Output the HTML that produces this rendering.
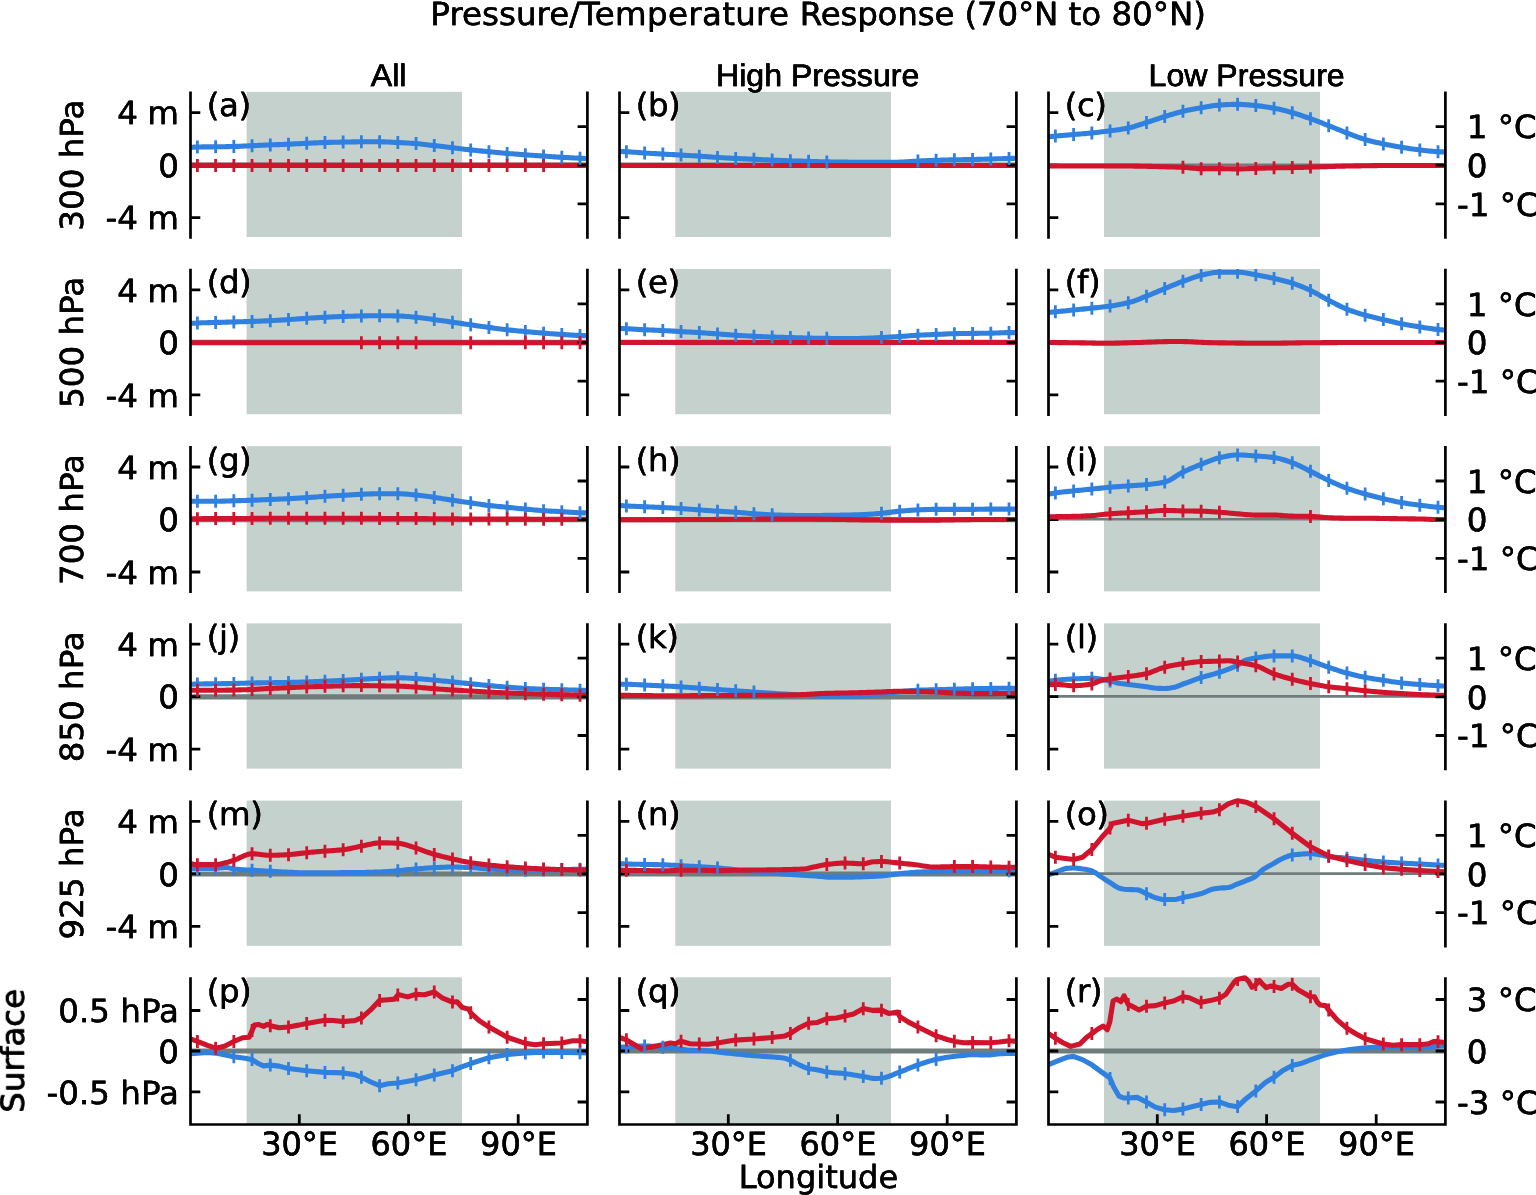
<!DOCTYPE html>
<html lang="en">
<head>
<meta charset="utf-8">
<title>Pressure/Temperature Response (70°N to 80°N)</title>
<style>
html,body{margin:0;padding:0;background:#fff;}
body{width:1536px;height:1195px;overflow:hidden;}
svg{display:block;}
text{fill:#000;stroke:#000;stroke-width:0.3px;text-rendering:geometricPrecision;}
.dv{font-family:"DejaVu Sans","Liberation Sans",sans-serif;font-size:32.5px;}
.pl{letter-spacing:-0.45px;}
.lb{font-family:"Liberation Sans","DejaVu Sans",sans-serif;font-size:32.1px;stroke-width:0.45px;}
</style>
</head>
<body>
<svg width="1536" height="1195" viewBox="0 0 1536 1195">
<rect width="1536" height="1195" fill="#fff"/>
<defs>
<filter id="vb" filterUnits="userSpaceOnUse" x="0" y="0" width="1536" height="1195" color-interpolation-filters="sRGB"><feOffset dy="-0.4" result="a"/><feOffset in="SourceGraphic" dy="0.4" result="b"/><feMerge><feMergeNode in="a"/><feMergeNode in="b"/></feMerge></filter>
<filter id="hb" filterUnits="userSpaceOnUse" x="0" y="0" width="1536" height="1195" color-interpolation-filters="sRGB"><feOffset dx="-0.4" result="a"/><feOffset in="SourceGraphic" dx="0.4" result="b"/><feMerge><feMergeNode in="a"/><feMergeNode in="b"/></feMerge></filter>
<clipPath id="cb00"><rect x="190.5" y="91.8" width="396.9" height="146.9"/></clipPath>
<clipPath id="cr00"><rect x="190.5" y="89.4" width="396.9" height="151.7"/></clipPath>
<clipPath id="cb01"><rect x="619.5" y="91.8" width="396.9" height="146.9"/></clipPath>
<clipPath id="cr01"><rect x="619.5" y="89.4" width="396.9" height="151.7"/></clipPath>
<clipPath id="cb02"><rect x="1048.5" y="91.8" width="396.9" height="146.9"/></clipPath>
<clipPath id="cr02"><rect x="1048.5" y="89.4" width="396.9" height="151.7"/></clipPath>
<clipPath id="cb10"><rect x="190.5" y="269" width="396.9" height="146.9"/></clipPath>
<clipPath id="cr10"><rect x="190.5" y="266.6" width="396.9" height="151.7"/></clipPath>
<clipPath id="cb11"><rect x="619.5" y="269" width="396.9" height="146.9"/></clipPath>
<clipPath id="cr11"><rect x="619.5" y="266.6" width="396.9" height="151.7"/></clipPath>
<clipPath id="cb12"><rect x="1048.5" y="269" width="396.9" height="146.9"/></clipPath>
<clipPath id="cr12"><rect x="1048.5" y="266.6" width="396.9" height="151.7"/></clipPath>
<clipPath id="cb20"><rect x="190.5" y="446.2" width="396.9" height="146.9"/></clipPath>
<clipPath id="cr20"><rect x="190.5" y="443.8" width="396.9" height="151.7"/></clipPath>
<clipPath id="cb21"><rect x="619.5" y="446.2" width="396.9" height="146.9"/></clipPath>
<clipPath id="cr21"><rect x="619.5" y="443.8" width="396.9" height="151.7"/></clipPath>
<clipPath id="cb22"><rect x="1048.5" y="446.2" width="396.9" height="146.9"/></clipPath>
<clipPath id="cr22"><rect x="1048.5" y="443.8" width="396.9" height="151.7"/></clipPath>
<clipPath id="cb30"><rect x="190.5" y="623.4" width="396.9" height="146.9"/></clipPath>
<clipPath id="cr30"><rect x="190.5" y="621" width="396.9" height="151.7"/></clipPath>
<clipPath id="cb31"><rect x="619.5" y="623.4" width="396.9" height="146.9"/></clipPath>
<clipPath id="cr31"><rect x="619.5" y="621" width="396.9" height="151.7"/></clipPath>
<clipPath id="cb32"><rect x="1048.5" y="623.4" width="396.9" height="146.9"/></clipPath>
<clipPath id="cr32"><rect x="1048.5" y="621" width="396.9" height="151.7"/></clipPath>
<clipPath id="cb40"><rect x="190.5" y="800.6" width="396.9" height="146.9"/></clipPath>
<clipPath id="cr40"><rect x="190.5" y="798.2" width="396.9" height="151.7"/></clipPath>
<clipPath id="cb41"><rect x="619.5" y="800.6" width="396.9" height="146.9"/></clipPath>
<clipPath id="cr41"><rect x="619.5" y="798.2" width="396.9" height="151.7"/></clipPath>
<clipPath id="cb42"><rect x="1048.5" y="800.6" width="396.9" height="146.9"/></clipPath>
<clipPath id="cr42"><rect x="1048.5" y="798.2" width="396.9" height="151.7"/></clipPath>
<clipPath id="cb50"><rect x="190.5" y="977.3" width="396.9" height="147.2"/></clipPath>
<clipPath id="cr50"><rect x="190.5" y="974.9" width="396.9" height="152"/></clipPath>
<clipPath id="cb51"><rect x="619.5" y="977.3" width="396.9" height="147.2"/></clipPath>
<clipPath id="cr51"><rect x="619.5" y="974.9" width="396.9" height="152"/></clipPath>
<clipPath id="cb52"><rect x="1048.5" y="977.3" width="396.9" height="147.2"/></clipPath>
<clipPath id="cr52"><rect x="1048.5" y="974.9" width="396.9" height="152"/></clipPath>
</defs>
<g id="panel-a">
<rect x="246.6" y="91.8" width="215.4" height="145.2" fill="#c4d1cd"/>
<line x1="190.5" x2="587.4" y1="165.2" y2="165.2" stroke="#6f7c7c" stroke-width="5.2"/>
<g clip-path="url(#cb00)" fill="none" stroke-linejoin="round">
<path d="M190.5,147.3 L192.5,147.19 L194.5,147.1 L196.5,147.02 L198.5,146.98 L200.5,146.95 L202.5,146.92 L204.5,146.9 L206.5,146.89 L208.5,146.87 L210.5,146.85 L212.5,146.84 L214.5,146.81 L216.5,146.79 L218.5,146.76 L220.5,146.74 L222.5,146.71 L224.5,146.68 L226.5,146.65 L228.5,146.61 L230.5,146.57 L232.5,146.53 L234.5,146.48 L236.5,146.42 L238.5,146.35 L240.5,146.26 L242.5,146.17 L244.5,146.07 L246.5,145.97 L248.5,145.87 L250.5,145.77 L252.5,145.68 L254.5,145.59 L256.5,145.5 L258.5,145.41 L260.5,145.32 L262.5,145.23 L264.5,145.15 L266.5,145.06 L268.5,144.97 L270.5,144.89 L272.5,144.81 L274.5,144.74 L276.5,144.66 L278.5,144.59 L280.5,144.51 L282.5,144.44 L284.5,144.36 L286.5,144.28 L288.5,144.2 L290.5,144.11 L292.5,144.02 L294.5,143.92 L296.5,143.81 L298.5,143.71 L300.5,143.61 L302.5,143.51 L304.5,143.41 L306.5,143.31 L308.5,143.22 L310.5,143.12 L312.5,143.02 L314.5,142.92 L316.5,142.83 L318.5,142.74 L320.5,142.66 L322.5,142.58 L324.5,142.51 L326.5,142.46 L328.5,142.4 L330.5,142.35 L332.5,142.31 L334.5,142.27 L336.5,142.23 L338.5,142.19 L340.5,142.15 L342.5,142.11 L344.5,142.07 L346.5,142.03 L348.5,141.99 L350.5,141.94 L352.5,141.9 L354.5,141.87 L356.5,141.84 L358.5,141.81 L360.5,141.8 L362.5,141.8 L364.5,141.8 L366.5,141.8 L368.5,141.8 L370.5,141.8 L372.5,141.8 L374.5,141.8 L376.5,141.8 L378.5,141.8 L380.5,141.8 L382.5,141.83 L384.5,141.88 L386.5,141.95 L388.5,142.03 L390.5,142.13 L392.5,142.23 L394.5,142.33 L396.5,142.44 L398.5,142.53 L400.5,142.63 L402.5,142.73 L404.5,142.84 L406.5,142.95 L408.5,143.07 L410.5,143.2 L412.5,143.34 L414.5,143.48 L416.5,143.64 L418.5,143.81 L420.5,144.01 L422.5,144.22 L424.5,144.45 L426.5,144.68 L428.5,144.92 L430.5,145.16 L432.5,145.4 L434.5,145.63 L436.5,145.85 L438.5,146.08 L440.5,146.31 L442.5,146.54 L444.5,146.77 L446.5,147 L448.5,147.23 L450.5,147.47 L452.5,147.7 L454.5,147.94 L456.5,148.19 L458.5,148.44 L460.5,148.69 L462.5,148.93 L464.5,149.18 L466.5,149.42 L468.5,149.65 L470.5,149.88 L472.5,150.09 L474.5,150.3 L476.5,150.5 L478.5,150.7 L480.5,150.9 L482.5,151.09 L484.5,151.28 L486.5,151.47 L488.5,151.66 L490.5,151.85 L492.5,152.05 L494.5,152.24 L496.5,152.43 L498.5,152.62 L500.5,152.81 L502.5,152.99 L504.5,153.17 L506.5,153.35 L508.5,153.51 L510.5,153.68 L512.5,153.83 L514.5,153.99 L516.5,154.14 L518.5,154.29 L520.5,154.44 L522.5,154.59 L524.5,154.74 L526.5,154.88 L528.5,155.03 L530.5,155.18 L532.5,155.32 L534.5,155.46 L536.5,155.61 L538.5,155.75 L540.5,155.89 L542.5,156.03 L544.5,156.16 L546.5,156.3 L548.5,156.44 L550.5,156.58 L552.5,156.71 L554.5,156.85 L556.5,156.98 L558.5,157.1 L560.5,157.23 L562.5,157.34 L564.5,157.45 L566.5,157.55 L568.5,157.65 L570.5,157.74 L572.5,157.83 L574.5,157.93 L576.5,158.02 L578.5,158.12 L580.5,158.23 L582.5,158.33 L584.5,158.44 L586.5,158.55 L587.4,158.6" stroke="#2f80df" stroke-width="5.1"/>
</g>
<path d="M190.5,112.6h9.8M190.5,165.1h9.8M190.5,217.6h9.8" stroke="#000" stroke-width="2.8" fill="none"/>
<g clip-path="url(#cr00)" fill="none" stroke-linejoin="round">
<path d="M190.5,165.4 L192.5,165.4 L194.5,165.4 L196.5,165.4 L198.5,165.4 L200.5,165.4 L202.5,165.4 L204.5,165.4 L206.5,165.4 L208.5,165.4 L210.5,165.4 L212.5,165.4 L214.5,165.4 L216.5,165.4 L218.5,165.4 L220.5,165.4 L222.5,165.4 L224.5,165.4 L226.5,165.4 L228.5,165.4 L230.5,165.4 L232.5,165.4 L234.5,165.4 L236.5,165.4 L238.5,165.4 L240.5,165.4 L242.5,165.4 L244.5,165.4 L246.5,165.4 L248.5,165.4 L250.5,165.4 L252.5,165.4 L254.5,165.4 L256.5,165.4 L258.5,165.4 L260.5,165.4 L262.5,165.4 L264.5,165.4 L266.5,165.4 L268.5,165.4 L270.5,165.4 L272.5,165.4 L274.5,165.4 L276.5,165.4 L278.5,165.4 L280.5,165.4 L282.5,165.4 L284.5,165.4 L286.5,165.4 L288.5,165.4 L290.5,165.4 L292.5,165.4 L294.5,165.4 L296.5,165.4 L298.5,165.4 L300.5,165.4 L302.5,165.4 L304.5,165.4 L306.5,165.4 L308.5,165.4 L310.5,165.4 L312.5,165.4 L314.5,165.4 L316.5,165.4 L318.5,165.4 L320.5,165.4 L322.5,165.4 L324.5,165.4 L326.5,165.4 L328.5,165.4 L330.5,165.4 L332.5,165.4 L334.5,165.4 L336.5,165.4 L338.5,165.4 L340.5,165.4 L342.5,165.4 L344.5,165.4 L346.5,165.4 L348.5,165.4 L350.5,165.4 L352.5,165.4 L354.5,165.4 L356.5,165.4 L358.5,165.4 L360.5,165.4 L362.5,165.4 L364.5,165.4 L366.5,165.4 L368.5,165.4 L370.5,165.4 L372.5,165.4 L374.5,165.4 L376.5,165.4 L378.5,165.4 L380.5,165.4 L382.5,165.4 L384.5,165.4 L386.5,165.4 L388.5,165.4 L390.5,165.4 L392.5,165.4 L394.5,165.4 L396.5,165.4 L398.5,165.4 L400.5,165.4 L402.5,165.4 L404.5,165.4 L406.5,165.4 L408.5,165.4 L410.5,165.4 L412.5,165.4 L414.5,165.4 L416.5,165.4 L418.5,165.4 L420.5,165.4 L422.5,165.4 L424.5,165.4 L426.5,165.4 L428.5,165.4 L430.5,165.4 L432.5,165.4 L434.5,165.4 L436.5,165.4 L438.5,165.4 L440.5,165.4 L442.5,165.4 L444.5,165.4 L446.5,165.4 L448.5,165.4 L450.5,165.4 L452.5,165.4 L454.5,165.4 L456.5,165.4 L458.5,165.4 L460.5,165.4 L462.5,165.4 L464.5,165.4 L466.5,165.4 L468.5,165.4 L470.5,165.4 L472.5,165.4 L474.5,165.4 L476.5,165.4 L478.5,165.4 L480.5,165.4 L482.5,165.4 L484.5,165.4 L486.5,165.4 L488.5,165.4 L490.5,165.4 L492.5,165.4 L494.5,165.4 L496.5,165.4 L498.5,165.4 L500.5,165.4 L502.5,165.4 L504.5,165.4 L506.5,165.4 L508.5,165.4 L510.5,165.4 L512.5,165.4 L514.5,165.4 L516.5,165.4 L518.5,165.4 L520.5,165.4 L522.5,165.4 L524.5,165.4 L526.5,165.4 L528.5,165.4 L530.5,165.4 L532.5,165.4 L534.5,165.4 L536.5,165.4 L538.5,165.4 L540.5,165.4 L542.5,165.4 L544.5,165.4 L546.5,165.4 L548.5,165.4 L550.5,165.4 L552.5,165.4 L554.5,165.4 L556.5,165.4 L558.5,165.4 L560.5,165.4 L562.5,165.4 L564.5,165.4 L566.5,165.4 L568.5,165.4 L570.5,165.4 L572.5,165.4 L574.5,165.4 L576.5,165.4 L578.5,165.4 L580.5,165.4 L582.5,165.38 L584.5,165.35 L586.5,165.32 L587.4,165.3" stroke="#d0142c" stroke-width="5.1"/>
</g>
<path d="M587.4,126.6h-9.8M587.4,165.2h-9.8M587.4,203.9h-9.8" stroke="#000" stroke-width="2.8" fill="none"/>
<g clip-path="url(#cb00)"><path d="M197.4,140.5V153.5M215.62,140.3V153.3M233.84,140V153M252.06,139.2V152.2M270.28,138.4V151.4M288.5,137.7V150.7M306.72,136.8V149.8M324.94,136V149M343.16,135.6V148.6M361.38,135.3V148.3M379.6,135.3V148.3M397.82,136V149M416.04,137.1V150.1M434.26,139.1V152.1M452.48,141.2V154.2M470.7,143.4V156.4M488.92,145.2V158.2M507.14,146.9V159.9M525.36,148.3V161.3M543.58,149.6V162.6M561.8,150.8V163.8M580.02,151.7V164.7" stroke="#2f80df" stroke-width="2.8" fill="none"/></g>
<g clip-path="url(#cb00)"><path d="M197.4,158.9V171.9M215.62,158.9V171.9M233.84,158.9V171.9M252.06,158.9V171.9M270.28,158.9V171.9M288.5,158.9V171.9M306.72,158.9V171.9M324.94,158.9V171.9M343.16,158.9V171.9M361.38,158.9V171.9M379.6,158.9V171.9M397.82,158.9V171.9M416.04,158.9V171.9M434.26,158.9V171.9M452.48,158.9V171.9M470.7,158.9V171.9M488.92,158.9V171.9M507.14,158.9V171.9M525.36,158.9V171.9M543.58,158.9V171.9" stroke="#d0142c" stroke-width="2.8" fill="none"/></g>
<path d="M190.5,91.6V238.7M587.4,91.6V238.7" stroke="#000" stroke-width="2.7" fill="none" stroke-linejoin="miter" stroke-linecap="butt"/>
</g>
<g id="panel-b">
<rect x="675.3" y="91.8" width="215.7" height="145.2" fill="#c4d1cd"/>
<line x1="619.5" x2="1016.4" y1="165.2" y2="165.2" stroke="#6f7c7c" stroke-width="5.2"/>
<g clip-path="url(#cb01)" fill="none" stroke-linejoin="round">
<path d="M619.5,151.46 L621.5,151.52 L623.5,151.59 L625.5,151.68 L627.5,151.77 L629.5,151.89 L631.5,152.03 L633.5,152.18 L635.5,152.33 L637.5,152.49 L639.5,152.65 L641.5,152.8 L643.5,152.95 L645.5,153.08 L647.5,153.2 L649.5,153.32 L651.5,153.43 L653.5,153.54 L655.5,153.65 L657.5,153.76 L659.5,153.87 L661.5,153.99 L663.5,154.1 L665.5,154.21 L667.5,154.33 L669.5,154.44 L671.5,154.56 L673.5,154.67 L675.5,154.79 L677.5,154.9 L679.5,155.01 L681.5,155.13 L683.5,155.24 L685.5,155.35 L687.5,155.46 L689.5,155.57 L691.5,155.68 L693.5,155.8 L695.5,155.91 L697.5,156.03 L699.5,156.16 L701.5,156.29 L703.5,156.43 L705.5,156.58 L707.5,156.73 L709.5,156.88 L711.5,157.03 L713.5,157.18 L715.5,157.32 L717.5,157.45 L719.5,157.57 L721.5,157.7 L723.5,157.82 L725.5,157.94 L727.5,158.05 L729.5,158.16 L731.5,158.27 L733.5,158.38 L735.5,158.48 L737.5,158.57 L739.5,158.67 L741.5,158.75 L743.5,158.84 L745.5,158.92 L747.5,159 L749.5,159.09 L751.5,159.17 L753.5,159.25 L755.5,159.34 L757.5,159.42 L759.5,159.51 L761.5,159.59 L763.5,159.68 L765.5,159.77 L767.5,159.85 L769.5,159.94 L771.5,160.02 L773.5,160.11 L775.5,160.2 L777.5,160.29 L779.5,160.38 L781.5,160.47 L783.5,160.56 L785.5,160.65 L787.5,160.73 L789.5,160.8 L791.5,160.87 L793.5,160.93 L795.5,160.99 L797.5,161.05 L799.5,161.11 L801.5,161.16 L803.5,161.21 L805.5,161.27 L807.5,161.32 L809.5,161.38 L811.5,161.44 L813.5,161.5 L815.5,161.57 L817.5,161.63 L819.5,161.69 L821.5,161.75 L823.5,161.8 L825.5,161.85 L827.5,161.89 L829.5,161.92 L831.5,161.95 L833.5,161.98 L835.5,162.01 L837.5,162.04 L839.5,162.06 L841.5,162.09 L843.5,162.11 L845.5,162.14 L847.5,162.17 L849.5,162.21 L851.5,162.25 L853.5,162.29 L855.5,162.32 L857.5,162.35 L859.5,162.38 L861.5,162.39 L863.5,162.4 L865.5,162.4 L867.5,162.4 L869.5,162.4 L871.5,162.4 L873.5,162.4 L875.5,162.4 L877.5,162.4 L879.5,162.4 L881.5,162.4 L883.5,162.39 L885.5,162.38 L887.5,162.36 L889.5,162.33 L891.5,162.3 L893.5,162.27 L895.5,162.23 L897.5,162.18 L899.5,162.14 L901.5,162.08 L903.5,161.99 L905.5,161.89 L907.5,161.76 L909.5,161.63 L911.5,161.49 L913.5,161.35 L915.5,161.23 L917.5,161.11 L919.5,161.02 L921.5,160.92 L923.5,160.83 L925.5,160.74 L927.5,160.65 L929.5,160.56 L931.5,160.48 L933.5,160.41 L935.5,160.33 L937.5,160.27 L939.5,160.2 L941.5,160.13 L943.5,160.07 L945.5,160.01 L947.5,159.95 L949.5,159.9 L951.5,159.85 L953.5,159.81 L955.5,159.77 L957.5,159.74 L959.5,159.71 L961.5,159.69 L963.5,159.66 L965.5,159.64 L967.5,159.61 L969.5,159.58 L971.5,159.55 L973.5,159.51 L975.5,159.47 L977.5,159.42 L979.5,159.36 L981.5,159.3 L983.5,159.24 L985.5,159.17 L987.5,159.11 L989.5,159.05 L991.5,158.99 L993.5,158.93 L995.5,158.88 L997.5,158.82 L999.5,158.77 L1001.5,158.71 L1003.5,158.66 L1005.5,158.6 L1007.5,158.54 L1009.5,158.47 L1011.5,158.41 L1013.5,158.34 L1015.5,158.26 L1016.4,158.23" stroke="#2f80df" stroke-width="5.1"/>
</g>
<path d="M619.5,112.6h9.8M619.5,165.1h9.8M619.5,217.6h9.8" stroke="#000" stroke-width="2.8" fill="none"/>
<g clip-path="url(#cr01)" fill="none" stroke-linejoin="round">
<path d="M619.5,165.52 L621.5,165.52 L623.5,165.52 L625.5,165.52 L627.5,165.52 L629.5,165.52 L631.5,165.52 L633.5,165.52 L635.5,165.52 L637.5,165.52 L639.5,165.52 L641.5,165.52 L643.5,165.52 L645.5,165.52 L647.5,165.52 L649.5,165.52 L651.5,165.52 L653.5,165.52 L655.5,165.52 L657.5,165.52 L659.5,165.52 L661.5,165.52 L663.5,165.52 L665.5,165.52 L667.5,165.52 L669.5,165.52 L671.5,165.52 L673.5,165.52 L675.5,165.52 L677.5,165.52 L679.5,165.52 L681.5,165.52 L683.5,165.52 L685.5,165.52 L687.5,165.52 L689.5,165.52 L691.5,165.52 L693.5,165.52 L695.5,165.52 L697.5,165.52 L699.5,165.52 L701.5,165.52 L703.5,165.52 L705.5,165.52 L707.5,165.52 L709.5,165.52 L711.5,165.52 L713.5,165.52 L715.5,165.52 L717.5,165.52 L719.5,165.52 L721.5,165.52 L723.5,165.52 L725.5,165.52 L727.5,165.52 L729.5,165.52 L731.5,165.52 L733.5,165.52 L735.5,165.52 L737.5,165.52 L739.5,165.52 L741.5,165.52 L743.5,165.52 L745.5,165.52 L747.5,165.52 L749.5,165.52 L751.5,165.52 L753.5,165.52 L755.5,165.52 L757.5,165.52 L759.5,165.52 L761.5,165.52 L763.5,165.52 L765.5,165.52 L767.5,165.52 L769.5,165.52 L771.5,165.52 L773.5,165.52 L775.5,165.52 L777.5,165.52 L779.5,165.52 L781.5,165.52 L783.5,165.52 L785.5,165.52 L787.5,165.52 L789.5,165.52 L791.5,165.52 L793.5,165.52 L795.5,165.52 L797.5,165.52 L799.5,165.52 L801.5,165.52 L803.5,165.52 L805.5,165.52 L807.5,165.52 L809.5,165.52 L811.5,165.52 L813.5,165.52 L815.5,165.52 L817.5,165.52 L819.5,165.52 L821.5,165.52 L823.5,165.52 L825.5,165.52 L827.5,165.52 L829.5,165.52 L831.5,165.52 L833.5,165.52 L835.5,165.52 L837.5,165.52 L839.5,165.52 L841.5,165.52 L843.5,165.52 L845.5,165.52 L847.5,165.52 L849.5,165.52 L851.5,165.52 L853.5,165.52 L855.5,165.52 L857.5,165.52 L859.5,165.52 L861.5,165.52 L863.5,165.52 L865.5,165.52 L867.5,165.52 L869.5,165.52 L871.5,165.52 L873.5,165.52 L875.5,165.52 L877.5,165.52 L879.5,165.52 L881.5,165.52 L883.5,165.52 L885.5,165.52 L887.5,165.52 L889.5,165.52 L891.5,165.52 L893.5,165.52 L895.5,165.52 L897.5,165.52 L899.5,165.52 L901.5,165.52 L903.5,165.52 L905.5,165.52 L907.5,165.52 L909.5,165.52 L911.5,165.52 L913.5,165.52 L915.5,165.52 L917.5,165.52 L919.5,165.52 L921.5,165.52 L923.5,165.52 L925.5,165.52 L927.5,165.52 L929.5,165.52 L931.5,165.52 L933.5,165.52 L935.5,165.52 L937.5,165.52 L939.5,165.52 L941.5,165.52 L943.5,165.52 L945.5,165.52 L947.5,165.52 L949.5,165.52 L951.5,165.52 L953.5,165.52 L955.5,165.52 L957.5,165.52 L959.5,165.52 L961.5,165.52 L963.5,165.52 L965.5,165.52 L967.5,165.52 L969.5,165.52 L971.5,165.52 L973.5,165.52 L975.5,165.52 L977.5,165.52 L979.5,165.52 L981.5,165.52 L983.5,165.52 L985.5,165.52 L987.5,165.52 L989.5,165.52 L991.5,165.52 L993.5,165.52 L995.5,165.52 L997.5,165.52 L999.5,165.52 L1001.5,165.52 L1003.5,165.52 L1005.5,165.52 L1007.5,165.52 L1009.5,165.52 L1011.5,165.52 L1013.5,165.52 L1015.5,165.52 L1016.4,165.52" stroke="#d0142c" stroke-width="5.1"/>
</g>
<path d="M1016.4,126.6h-9.8M1016.4,165.2h-9.8M1016.4,203.9h-9.8" stroke="#000" stroke-width="2.8" fill="none"/>
<g clip-path="url(#cb01)"><path d="M626.4,145.22V158.22M644.62,146.52V159.52M662.84,147.56V160.56M681.06,148.6V161.6M699.28,149.65V162.65M717.5,150.95V163.95M735.72,151.99V164.99M753.94,152.77V165.77M772.16,153.55V166.55M790.38,154.33V167.33M808.6,154.85V167.85M826.82,155.38V168.38M917.92,154.59V167.59M936.14,153.81V166.81M954.36,153.29V166.29M972.58,153.03V166.03M990.8,152.51V165.51M1009.02,151.99V164.99" stroke="#2f80df" stroke-width="2.8" fill="none"/></g>
<path d="M619.5,91.6V238.7M1016.4,91.6V238.7" stroke="#000" stroke-width="2.7" fill="none" stroke-linejoin="miter" stroke-linecap="butt"/>
</g>
<g id="panel-c">
<rect x="1104" y="91.8" width="216" height="145.2" fill="#c4d1cd"/>
<line x1="1048.5" x2="1445.4" y1="164.8" y2="164.8" stroke="#6f7c7c" stroke-width="2.6"/>
<g clip-path="url(#cb02)" fill="none" stroke-linejoin="round">
<path d="M1048.5,136.88 L1050.5,136.64 L1052.5,136.4 L1054.5,136.19 L1056.5,135.99 L1058.5,135.8 L1060.5,135.62 L1062.5,135.45 L1064.5,135.28 L1066.5,135.12 L1068.5,134.96 L1070.5,134.79 L1072.5,134.63 L1074.5,134.46 L1076.5,134.29 L1078.5,134.12 L1080.5,133.96 L1082.5,133.8 L1084.5,133.63 L1086.5,133.46 L1088.5,133.28 L1090.5,133.1 L1092.5,132.9 L1094.5,132.7 L1096.5,132.49 L1098.5,132.28 L1100.5,132.06 L1102.5,131.83 L1104.5,131.59 L1106.5,131.34 L1108.5,131.09 L1110.5,130.83 L1112.5,130.56 L1114.5,130.29 L1116.5,130.01 L1118.5,129.72 L1120.5,129.42 L1122.5,129.09 L1124.5,128.75 L1126.5,128.38 L1128.5,127.97 L1130.5,127.52 L1132.5,127 L1134.5,126.43 L1136.5,125.81 L1138.5,125.17 L1140.5,124.51 L1142.5,123.85 L1144.5,123.19 L1146.5,122.55 L1148.5,121.91 L1150.5,121.26 L1152.5,120.59 L1154.5,119.91 L1156.5,119.24 L1158.5,118.57 L1160.5,117.9 L1162.5,117.26 L1164.5,116.63 L1166.5,116.02 L1168.5,115.4 L1170.5,114.79 L1172.5,114.19 L1174.5,113.6 L1176.5,113.03 L1178.5,112.48 L1180.5,111.95 L1182.5,111.46 L1184.5,110.99 L1186.5,110.54 L1188.5,110.11 L1190.5,109.69 L1192.5,109.29 L1194.5,108.9 L1196.5,108.52 L1198.5,108.16 L1200.5,107.82 L1202.5,107.48 L1204.5,107.14 L1206.5,106.8 L1208.5,106.46 L1210.5,106.14 L1212.5,105.84 L1214.5,105.58 L1216.5,105.35 L1218.5,105.17 L1220.5,105.03 L1222.5,104.9 L1224.5,104.78 L1226.5,104.67 L1228.5,104.56 L1230.5,104.47 L1232.5,104.4 L1234.5,104.35 L1236.5,104.33 L1238.5,104.33 L1240.5,104.37 L1242.5,104.46 L1244.5,104.59 L1246.5,104.74 L1248.5,104.91 L1250.5,105.1 L1252.5,105.3 L1254.5,105.5 L1256.5,105.69 L1258.5,105.9 L1260.5,106.14 L1262.5,106.39 L1264.5,106.67 L1266.5,106.97 L1268.5,107.28 L1270.5,107.61 L1272.5,107.96 L1274.5,108.31 L1276.5,108.7 L1278.5,109.12 L1280.5,109.58 L1282.5,110.06 L1284.5,110.56 L1286.5,111.08 L1288.5,111.62 L1290.5,112.17 L1292.5,112.72 L1294.5,113.3 L1296.5,113.91 L1298.5,114.54 L1300.5,115.19 L1302.5,115.86 L1304.5,116.54 L1306.5,117.24 L1308.5,117.94 L1310.5,118.65 L1312.5,119.37 L1314.5,120.12 L1316.5,120.88 L1318.5,121.65 L1320.5,122.43 L1322.5,123.22 L1324.5,124.02 L1326.5,124.81 L1328.5,125.6 L1330.5,126.39 L1332.5,127.19 L1334.5,128.01 L1336.5,128.82 L1338.5,129.64 L1340.5,130.45 L1342.5,131.25 L1344.5,132.04 L1346.5,132.81 L1348.5,133.57 L1350.5,134.33 L1352.5,135.1 L1354.5,135.85 L1356.5,136.6 L1358.5,137.32 L1360.5,138.01 L1362.5,138.67 L1364.5,139.29 L1366.5,139.87 L1368.5,140.42 L1370.5,140.94 L1372.5,141.45 L1374.5,141.93 L1376.5,142.4 L1378.5,142.85 L1380.5,143.29 L1382.5,143.72 L1384.5,144.14 L1386.5,144.55 L1388.5,144.95 L1390.5,145.34 L1392.5,145.72 L1394.5,146.08 L1396.5,146.44 L1398.5,146.78 L1400.5,147.12 L1402.5,147.44 L1404.5,147.76 L1406.5,148.07 L1408.5,148.37 L1410.5,148.67 L1412.5,148.95 L1414.5,149.23 L1416.5,149.49 L1418.5,149.74 L1420.5,149.98 L1422.5,150.22 L1424.5,150.46 L1426.5,150.69 L1428.5,150.92 L1430.5,151.13 L1432.5,151.32 L1434.5,151.49 L1436.5,151.63 L1438.5,151.74 L1440.5,151.83 L1442.5,151.91 L1444.5,151.96 L1445.4,151.98" stroke="#2f80df" stroke-width="5.1"/>
</g>
<path d="M1048.5,112.6h9.8M1048.5,165.1h9.8M1048.5,217.6h9.8" stroke="#000" stroke-width="2.8" fill="none"/>
<g clip-path="url(#cr02)" fill="none" stroke-linejoin="round">
<path d="M1048.5,166.04 L1050.5,166.04 L1052.5,166.04 L1054.5,166.04 L1056.5,166.04 L1058.5,166.04 L1060.5,166.04 L1062.5,166.04 L1064.5,166.04 L1066.5,166.04 L1068.5,166.04 L1070.5,166.04 L1072.5,166.04 L1074.5,166.04 L1076.5,166.04 L1078.5,166.04 L1080.5,166.04 L1082.5,166.04 L1084.5,166.04 L1086.5,166.04 L1088.5,166.04 L1090.5,166.04 L1092.5,166.04 L1094.5,166.04 L1096.5,166.04 L1098.5,166.04 L1100.5,166.04 L1102.5,166.04 L1104.5,166.04 L1106.5,166.04 L1108.5,166.04 L1110.5,166.04 L1112.5,166.04 L1114.5,166.04 L1116.5,166.04 L1118.5,166.04 L1120.5,166.04 L1122.5,166.04 L1124.5,166.04 L1126.5,166.04 L1128.5,166.04 L1130.5,166.05 L1132.5,166.06 L1134.5,166.09 L1136.5,166.11 L1138.5,166.15 L1140.5,166.18 L1142.5,166.22 L1144.5,166.26 L1146.5,166.3 L1148.5,166.34 L1150.5,166.39 L1152.5,166.45 L1154.5,166.51 L1156.5,166.57 L1158.5,166.63 L1160.5,166.7 L1162.5,166.76 L1164.5,166.82 L1166.5,166.87 L1168.5,166.92 L1170.5,166.97 L1172.5,167.02 L1174.5,167.07 L1176.5,167.13 L1178.5,167.19 L1180.5,167.25 L1182.5,167.33 L1184.5,167.42 L1186.5,167.57 L1188.5,167.74 L1190.5,167.94 L1192.5,168.13 L1194.5,168.31 L1196.5,168.47 L1198.5,168.58 L1200.5,168.64 L1202.5,168.65 L1204.5,168.65 L1206.5,168.65 L1208.5,168.65 L1210.5,168.65 L1212.5,168.65 L1214.5,168.65 L1216.5,168.65 L1218.5,168.65 L1220.5,168.65 L1222.5,168.67 L1224.5,168.7 L1226.5,168.73 L1228.5,168.78 L1230.5,168.82 L1232.5,168.86 L1234.5,168.89 L1236.5,168.9 L1238.5,168.9 L1240.5,168.88 L1242.5,168.84 L1244.5,168.79 L1246.5,168.72 L1248.5,168.64 L1250.5,168.57 L1252.5,168.49 L1254.5,168.43 L1256.5,168.37 L1258.5,168.31 L1260.5,168.24 L1262.5,168.18 L1264.5,168.12 L1266.5,168.06 L1268.5,168 L1270.5,167.94 L1272.5,167.9 L1274.5,167.86 L1276.5,167.82 L1278.5,167.79 L1280.5,167.77 L1282.5,167.74 L1284.5,167.72 L1286.5,167.69 L1288.5,167.67 L1290.5,167.64 L1292.5,167.6 L1294.5,167.56 L1296.5,167.51 L1298.5,167.45 L1300.5,167.39 L1302.5,167.33 L1304.5,167.27 L1306.5,167.2 L1308.5,167.14 L1310.5,167.08 L1312.5,167.03 L1314.5,166.97 L1316.5,166.91 L1318.5,166.85 L1320.5,166.8 L1322.5,166.74 L1324.5,166.68 L1326.5,166.63 L1328.5,166.57 L1330.5,166.51 L1332.5,166.45 L1334.5,166.38 L1336.5,166.32 L1338.5,166.26 L1340.5,166.2 L1342.5,166.14 L1344.5,166.09 L1346.5,166.05 L1348.5,166.01 L1350.5,165.98 L1352.5,165.95 L1354.5,165.92 L1356.5,165.89 L1358.5,165.87 L1360.5,165.84 L1362.5,165.82 L1364.5,165.79 L1366.5,165.76 L1368.5,165.73 L1370.5,165.69 L1372.5,165.65 L1374.5,165.61 L1376.5,165.58 L1378.5,165.55 L1380.5,165.53 L1382.5,165.52 L1384.5,165.52 L1386.5,165.52 L1388.5,165.52 L1390.5,165.52 L1392.5,165.52 L1394.5,165.52 L1396.5,165.52 L1398.5,165.52 L1400.5,165.52 L1402.5,165.52 L1404.5,165.52 L1406.5,165.52 L1408.5,165.52 L1410.5,165.52 L1412.5,165.52 L1414.5,165.52 L1416.5,165.52 L1418.5,165.52 L1420.5,165.52 L1422.5,165.52 L1424.5,165.52 L1426.5,165.52 L1428.5,165.52 L1430.5,165.52 L1432.5,165.52 L1434.5,165.52 L1436.5,165.52 L1438.5,165.52 L1440.5,165.52 L1442.5,165.52 L1444.5,165.52 L1445.4,165.52" stroke="#d0142c" stroke-width="5.1"/>
</g>
<path d="M1445.4,126.6h-9.8M1445.4,165.2h-9.8M1445.4,203.9h-9.8" stroke="#000" stroke-width="2.8" fill="none"/>
<g clip-path="url(#cb02)"><path d="M1055.4,129.59V142.59M1073.62,128.03V141.03M1091.84,126.47V139.47M1110.06,124.39V137.39M1128.28,121.52V134.52M1146.5,116.05V129.05M1164.72,110.06V123.06M1182.94,104.85V117.85M1201.16,101.21V114.21M1219.38,98.6V111.6M1237.6,97.82V110.82M1255.82,99.12V112.12M1274.04,101.73V114.73M1292.26,106.16V119.16M1310.48,112.15V125.15M1328.7,119.18V132.18M1346.92,126.47V139.47M1365.14,132.98V145.98M1383.36,137.41V150.41M1401.58,140.79V153.79M1419.8,143.4V156.4M1438.02,145.22V158.22" stroke="#2f80df" stroke-width="2.8" fill="none"/></g>
<g clip-path="url(#cb02)"><path d="M1182.94,160.84V173.84M1201.16,162.15V175.15M1219.38,162.15V175.15M1237.6,162.41V175.41M1255.82,161.89V174.89M1274.04,161.36V174.36M1292.26,161.1V174.1M1310.48,160.58V173.58" stroke="#d0142c" stroke-width="2.8" fill="none"/></g>
<path d="M1048.5,91.6V238.7M1445.4,91.6V238.7" stroke="#000" stroke-width="2.7" fill="none" stroke-linejoin="miter" stroke-linecap="butt"/>
</g>
<g id="panel-d">
<rect x="246.6" y="269" width="215.4" height="145.2" fill="#c4d1cd"/>
<line x1="190.5" x2="587.4" y1="342.4" y2="342.4" stroke="#6f7c7c" stroke-width="5.2"/>
<g clip-path="url(#cb10)" fill="none" stroke-linejoin="round">
<path d="M190.5,323.51 L192.5,323.33 L194.5,323.17 L196.5,323.04 L198.5,322.94 L200.5,322.87 L202.5,322.8 L204.5,322.74 L206.5,322.69 L208.5,322.65 L210.5,322.6 L212.5,322.55 L214.5,322.5 L216.5,322.44 L218.5,322.39 L220.5,322.33 L222.5,322.27 L224.5,322.21 L226.5,322.16 L228.5,322.1 L230.5,322.04 L232.5,321.99 L234.5,321.93 L236.5,321.87 L238.5,321.82 L240.5,321.77 L242.5,321.71 L244.5,321.66 L246.5,321.6 L248.5,321.54 L250.5,321.48 L252.5,321.41 L254.5,321.34 L256.5,321.26 L258.5,321.18 L260.5,321.1 L262.5,321.01 L264.5,320.92 L266.5,320.83 L268.5,320.73 L270.5,320.64 L272.5,320.53 L274.5,320.43 L276.5,320.32 L278.5,320.21 L280.5,320.09 L282.5,319.98 L284.5,319.85 L286.5,319.73 L288.5,319.6 L290.5,319.47 L292.5,319.33 L294.5,319.19 L296.5,319.04 L298.5,318.89 L300.5,318.74 L302.5,318.59 L304.5,318.45 L306.5,318.32 L308.5,318.19 L310.5,318.07 L312.5,317.94 L314.5,317.83 L316.5,317.71 L318.5,317.6 L320.5,317.49 L322.5,317.38 L324.5,317.28 L326.5,317.18 L328.5,317.09 L330.5,317 L332.5,316.9 L334.5,316.82 L336.5,316.73 L338.5,316.65 L340.5,316.57 L342.5,316.5 L344.5,316.43 L346.5,316.37 L348.5,316.3 L350.5,316.24 L352.5,316.18 L354.5,316.12 L356.5,316.07 L358.5,316.02 L360.5,315.98 L362.5,315.94 L364.5,315.9 L366.5,315.86 L368.5,315.82 L370.5,315.78 L372.5,315.75 L374.5,315.73 L376.5,315.71 L378.5,315.7 L380.5,315.7 L382.5,315.71 L384.5,315.72 L386.5,315.74 L388.5,315.77 L390.5,315.8 L392.5,315.84 L394.5,315.88 L396.5,315.93 L398.5,315.98 L400.5,316.05 L402.5,316.15 L404.5,316.28 L406.5,316.42 L408.5,316.58 L410.5,316.75 L412.5,316.93 L414.5,317.12 L416.5,317.3 L418.5,317.51 L420.5,317.74 L422.5,317.98 L424.5,318.25 L426.5,318.52 L428.5,318.8 L430.5,319.08 L432.5,319.36 L434.5,319.64 L436.5,319.91 L438.5,320.19 L440.5,320.48 L442.5,320.76 L444.5,321.05 L446.5,321.34 L448.5,321.63 L450.5,321.92 L452.5,322.21 L454.5,322.5 L456.5,322.78 L458.5,323.07 L460.5,323.35 L462.5,323.64 L464.5,323.93 L466.5,324.21 L468.5,324.5 L470.5,324.78 L472.5,325.07 L474.5,325.36 L476.5,325.65 L478.5,325.94 L480.5,326.23 L482.5,326.52 L484.5,326.8 L486.5,327.08 L488.5,327.36 L490.5,327.63 L492.5,327.9 L494.5,328.17 L496.5,328.44 L498.5,328.7 L500.5,328.96 L502.5,329.21 L504.5,329.45 L506.5,329.69 L508.5,329.91 L510.5,330.13 L512.5,330.34 L514.5,330.54 L516.5,330.74 L518.5,330.94 L520.5,331.13 L522.5,331.32 L524.5,331.5 L526.5,331.69 L528.5,331.87 L530.5,332.05 L532.5,332.23 L534.5,332.4 L536.5,332.57 L538.5,332.74 L540.5,332.9 L542.5,333.06 L544.5,333.22 L546.5,333.37 L548.5,333.52 L550.5,333.67 L552.5,333.82 L554.5,333.96 L556.5,334.1 L558.5,334.23 L560.5,334.36 L562.5,334.49 L564.5,334.62 L566.5,334.75 L568.5,334.87 L570.5,334.99 L572.5,335.11 L574.5,335.22 L576.5,335.33 L578.5,335.42 L580.5,335.51 L582.5,335.59 L584.5,335.66 L586.5,335.72 L587.4,335.75" stroke="#2f80df" stroke-width="5.1"/>
</g>
<path d="M190.5,289.8h9.8M190.5,342.3h9.8M190.5,394.8h9.8" stroke="#000" stroke-width="2.8" fill="none"/>
<g clip-path="url(#cr10)" fill="none" stroke-linejoin="round">
<path d="M190.5,342.78 L192.5,342.78 L194.5,342.78 L196.5,342.78 L198.5,342.78 L200.5,342.78 L202.5,342.78 L204.5,342.78 L206.5,342.78 L208.5,342.78 L210.5,342.78 L212.5,342.78 L214.5,342.78 L216.5,342.78 L218.5,342.78 L220.5,342.78 L222.5,342.78 L224.5,342.78 L226.5,342.78 L228.5,342.78 L230.5,342.78 L232.5,342.78 L234.5,342.78 L236.5,342.78 L238.5,342.78 L240.5,342.78 L242.5,342.78 L244.5,342.78 L246.5,342.78 L248.5,342.78 L250.5,342.78 L252.5,342.78 L254.5,342.78 L256.5,342.78 L258.5,342.78 L260.5,342.78 L262.5,342.78 L264.5,342.78 L266.5,342.78 L268.5,342.78 L270.5,342.78 L272.5,342.78 L274.5,342.78 L276.5,342.78 L278.5,342.78 L280.5,342.78 L282.5,342.78 L284.5,342.78 L286.5,342.78 L288.5,342.78 L290.5,342.78 L292.5,342.78 L294.5,342.78 L296.5,342.78 L298.5,342.78 L300.5,342.78 L302.5,342.78 L304.5,342.78 L306.5,342.78 L308.5,342.78 L310.5,342.78 L312.5,342.78 L314.5,342.78 L316.5,342.78 L318.5,342.78 L320.5,342.78 L322.5,342.78 L324.5,342.78 L326.5,342.78 L328.5,342.78 L330.5,342.78 L332.5,342.78 L334.5,342.78 L336.5,342.78 L338.5,342.78 L340.5,342.78 L342.5,342.78 L344.5,342.78 L346.5,342.78 L348.5,342.78 L350.5,342.78 L352.5,342.78 L354.5,342.78 L356.5,342.78 L358.5,342.78 L360.5,342.78 L362.5,342.78 L364.5,342.78 L366.5,342.78 L368.5,342.78 L370.5,342.78 L372.5,342.78 L374.5,342.78 L376.5,342.78 L378.5,342.78 L380.5,342.78 L382.5,342.78 L384.5,342.78 L386.5,342.78 L388.5,342.78 L390.5,342.78 L392.5,342.78 L394.5,342.78 L396.5,342.78 L398.5,342.78 L400.5,342.78 L402.5,342.78 L404.5,342.78 L406.5,342.78 L408.5,342.78 L410.5,342.78 L412.5,342.78 L414.5,342.78 L416.5,342.78 L418.5,342.78 L420.5,342.78 L422.5,342.78 L424.5,342.78 L426.5,342.78 L428.5,342.78 L430.5,342.78 L432.5,342.78 L434.5,342.78 L436.5,342.78 L438.5,342.78 L440.5,342.78 L442.5,342.78 L444.5,342.78 L446.5,342.78 L448.5,342.78 L450.5,342.78 L452.5,342.78 L454.5,342.78 L456.5,342.78 L458.5,342.78 L460.5,342.78 L462.5,342.78 L464.5,342.78 L466.5,342.78 L468.5,342.78 L470.5,342.78 L472.5,342.78 L474.5,342.78 L476.5,342.78 L478.5,342.78 L480.5,342.78 L482.5,342.78 L484.5,342.78 L486.5,342.78 L488.5,342.78 L490.5,342.78 L492.5,342.78 L494.5,342.78 L496.5,342.78 L498.5,342.78 L500.5,342.78 L502.5,342.78 L504.5,342.78 L506.5,342.78 L508.5,342.78 L510.5,342.78 L512.5,342.78 L514.5,342.78 L516.5,342.78 L518.5,342.78 L520.5,342.78 L522.5,342.78 L524.5,342.78 L526.5,342.78 L528.5,342.78 L530.5,342.78 L532.5,342.78 L534.5,342.78 L536.5,342.78 L538.5,342.78 L540.5,342.78 L542.5,342.78 L544.5,342.78 L546.5,342.78 L548.5,342.78 L550.5,342.78 L552.5,342.78 L554.5,342.78 L556.5,342.78 L558.5,342.78 L560.5,342.78 L562.5,342.78 L564.5,342.78 L566.5,342.78 L568.5,342.78 L570.5,342.78 L572.5,342.78 L574.5,342.78 L576.5,342.78 L578.5,342.78 L580.5,342.78 L582.5,342.78 L584.5,342.78 L586.5,342.78 L587.4,342.78" stroke="#d0142c" stroke-width="5.1"/>
</g>
<path d="M587.4,303.8h-9.8M587.4,342.4h-9.8M587.4,381.1h-9.8" stroke="#000" stroke-width="2.8" fill="none"/>
<g clip-path="url(#cb10)"><path d="M197.4,316.49V329.49M215.62,315.97V328.97M233.84,315.45V328.45M252.06,314.93V327.93M270.28,314.15V327.15M288.5,313.1V326.1M306.72,311.8V324.8M324.94,310.76V323.76M343.16,309.98V322.98M361.38,309.46V322.46M379.6,309.2V322.2M397.82,309.46V322.46M416.04,310.76V323.76M434.26,313.1V326.1M452.48,315.71V328.71M470.7,318.31V331.31M488.92,320.92V333.92M507.14,323.26V336.26M525.36,325.08V338.08M543.58,326.65V339.65M561.8,327.95V340.95M580.02,328.99V341.99" stroke="#2f80df" stroke-width="2.8" fill="none"/></g>
<g clip-path="url(#cb10)"><path d="M361.38,336.28V349.28M379.6,336.28V349.28M397.82,336.28V349.28M416.04,336.28V349.28M470.7,336.28V349.28M525.36,336.28V349.28M543.58,336.28V349.28M561.8,336.28V349.28M580.02,336.28V349.28" stroke="#d0142c" stroke-width="2.8" fill="none"/></g>
<path d="M190.5,268.8V415.9M587.4,268.8V415.9" stroke="#000" stroke-width="2.7" fill="none" stroke-linejoin="miter" stroke-linecap="butt"/>
</g>
<g id="panel-e">
<rect x="675.3" y="269" width="215.7" height="145.2" fill="#c4d1cd"/>
<line x1="619.5" x2="1016.4" y1="342.4" y2="342.4" stroke="#6f7c7c" stroke-width="5.2"/>
<g clip-path="url(#cb11)" fill="none" stroke-linejoin="round">
<path d="M619.5,328.46 L621.5,328.53 L623.5,328.6 L625.5,328.68 L627.5,328.77 L629.5,328.87 L631.5,328.98 L633.5,329.1 L635.5,329.23 L637.5,329.35 L639.5,329.48 L641.5,329.59 L643.5,329.7 L645.5,329.8 L647.5,329.89 L649.5,329.98 L651.5,330.06 L653.5,330.14 L655.5,330.22 L657.5,330.3 L659.5,330.39 L661.5,330.48 L663.5,330.57 L665.5,330.68 L667.5,330.79 L669.5,330.9 L671.5,331.02 L673.5,331.14 L675.5,331.26 L677.5,331.38 L679.5,331.49 L681.5,331.61 L683.5,331.72 L685.5,331.83 L687.5,331.94 L689.5,332.05 L691.5,332.16 L693.5,332.28 L695.5,332.39 L697.5,332.51 L699.5,332.64 L701.5,332.77 L703.5,332.91 L705.5,333.05 L707.5,333.19 L709.5,333.34 L711.5,333.49 L713.5,333.64 L715.5,333.78 L717.5,333.93 L719.5,334.07 L721.5,334.22 L723.5,334.37 L725.5,334.51 L727.5,334.66 L729.5,334.81 L731.5,334.95 L733.5,335.08 L735.5,335.22 L737.5,335.34 L739.5,335.47 L741.5,335.59 L743.5,335.71 L745.5,335.82 L747.5,335.93 L749.5,336.04 L751.5,336.15 L753.5,336.25 L755.5,336.35 L757.5,336.44 L759.5,336.54 L761.5,336.63 L763.5,336.71 L765.5,336.8 L767.5,336.88 L769.5,336.96 L771.5,337.03 L773.5,337.1 L775.5,337.16 L777.5,337.22 L779.5,337.28 L781.5,337.33 L783.5,337.39 L785.5,337.44 L787.5,337.49 L789.5,337.55 L791.5,337.61 L793.5,337.67 L795.5,337.73 L797.5,337.79 L799.5,337.86 L801.5,337.92 L803.5,337.97 L805.5,338.03 L807.5,338.07 L809.5,338.11 L811.5,338.14 L813.5,338.18 L815.5,338.21 L817.5,338.23 L819.5,338.26 L821.5,338.28 L823.5,338.31 L825.5,338.34 L827.5,338.36 L829.5,338.4 L831.5,338.43 L833.5,338.47 L835.5,338.51 L837.5,338.54 L839.5,338.57 L841.5,338.6 L843.5,338.61 L845.5,338.61 L847.5,338.61 L849.5,338.59 L851.5,338.57 L853.5,338.54 L855.5,338.51 L857.5,338.47 L859.5,338.43 L861.5,338.39 L863.5,338.35 L865.5,338.3 L867.5,338.23 L869.5,338.15 L871.5,338.07 L873.5,337.97 L875.5,337.87 L877.5,337.77 L879.5,337.67 L881.5,337.57 L883.5,337.47 L885.5,337.37 L887.5,337.26 L889.5,337.15 L891.5,337.03 L893.5,336.91 L895.5,336.79 L897.5,336.67 L899.5,336.54 L901.5,336.41 L903.5,336.27 L905.5,336.12 L907.5,335.96 L909.5,335.8 L911.5,335.65 L913.5,335.51 L915.5,335.37 L917.5,335.25 L919.5,335.15 L921.5,335.05 L923.5,334.96 L925.5,334.88 L927.5,334.8 L929.5,334.72 L931.5,334.64 L933.5,334.56 L935.5,334.48 L937.5,334.39 L939.5,334.29 L941.5,334.19 L943.5,334.09 L945.5,334 L947.5,333.9 L949.5,333.82 L951.5,333.75 L953.5,333.69 L955.5,333.64 L957.5,333.61 L959.5,333.57 L961.5,333.55 L963.5,333.52 L965.5,333.5 L967.5,333.47 L969.5,333.45 L971.5,333.42 L973.5,333.39 L975.5,333.37 L977.5,333.34 L979.5,333.32 L981.5,333.29 L983.5,333.26 L985.5,333.23 L987.5,333.2 L989.5,333.17 L991.5,333.13 L993.5,333.08 L995.5,333.01 L997.5,332.94 L999.5,332.86 L1001.5,332.78 L1003.5,332.72 L1005.5,332.67 L1007.5,332.63 L1009.5,332.62 L1011.5,332.62 L1013.5,332.62 L1015.5,332.62 L1016.4,332.62" stroke="#2f80df" stroke-width="5.1"/>
</g>
<path d="M619.5,289.8h9.8M619.5,342.3h9.8M619.5,394.8h9.8" stroke="#000" stroke-width="2.8" fill="none"/>
<g clip-path="url(#cr11)" fill="none" stroke-linejoin="round">
<path d="M619.5,342.52 L621.5,342.52 L623.5,342.52 L625.5,342.52 L627.5,342.52 L629.5,342.52 L631.5,342.52 L633.5,342.52 L635.5,342.52 L637.5,342.52 L639.5,342.52 L641.5,342.52 L643.5,342.52 L645.5,342.52 L647.5,342.52 L649.5,342.52 L651.5,342.52 L653.5,342.52 L655.5,342.52 L657.5,342.52 L659.5,342.52 L661.5,342.52 L663.5,342.52 L665.5,342.52 L667.5,342.52 L669.5,342.52 L671.5,342.52 L673.5,342.52 L675.5,342.52 L677.5,342.52 L679.5,342.52 L681.5,342.52 L683.5,342.52 L685.5,342.52 L687.5,342.52 L689.5,342.52 L691.5,342.52 L693.5,342.52 L695.5,342.52 L697.5,342.52 L699.5,342.52 L701.5,342.52 L703.5,342.52 L705.5,342.52 L707.5,342.52 L709.5,342.52 L711.5,342.52 L713.5,342.52 L715.5,342.52 L717.5,342.52 L719.5,342.52 L721.5,342.52 L723.5,342.52 L725.5,342.52 L727.5,342.52 L729.5,342.52 L731.5,342.52 L733.5,342.52 L735.5,342.52 L737.5,342.52 L739.5,342.52 L741.5,342.52 L743.5,342.52 L745.5,342.52 L747.5,342.52 L749.5,342.52 L751.5,342.52 L753.5,342.52 L755.5,342.52 L757.5,342.52 L759.5,342.52 L761.5,342.52 L763.5,342.52 L765.5,342.52 L767.5,342.52 L769.5,342.52 L771.5,342.52 L773.5,342.52 L775.5,342.52 L777.5,342.52 L779.5,342.52 L781.5,342.52 L783.5,342.52 L785.5,342.52 L787.5,342.52 L789.5,342.52 L791.5,342.52 L793.5,342.52 L795.5,342.52 L797.5,342.52 L799.5,342.52 L801.5,342.52 L803.5,342.52 L805.5,342.52 L807.5,342.52 L809.5,342.52 L811.5,342.52 L813.5,342.52 L815.5,342.52 L817.5,342.52 L819.5,342.52 L821.5,342.52 L823.5,342.52 L825.5,342.52 L827.5,342.52 L829.5,342.52 L831.5,342.52 L833.5,342.52 L835.5,342.52 L837.5,342.52 L839.5,342.52 L841.5,342.52 L843.5,342.52 L845.5,342.52 L847.5,342.52 L849.5,342.52 L851.5,342.52 L853.5,342.52 L855.5,342.52 L857.5,342.52 L859.5,342.52 L861.5,342.52 L863.5,342.52 L865.5,342.52 L867.5,342.52 L869.5,342.52 L871.5,342.52 L873.5,342.52 L875.5,342.52 L877.5,342.52 L879.5,342.52 L881.5,342.52 L883.5,342.52 L885.5,342.52 L887.5,342.52 L889.5,342.52 L891.5,342.52 L893.5,342.52 L895.5,342.52 L897.5,342.52 L899.5,342.52 L901.5,342.52 L903.5,342.52 L905.5,342.52 L907.5,342.52 L909.5,342.52 L911.5,342.52 L913.5,342.52 L915.5,342.52 L917.5,342.52 L919.5,342.52 L921.5,342.52 L923.5,342.52 L925.5,342.52 L927.5,342.52 L929.5,342.52 L931.5,342.52 L933.5,342.52 L935.5,342.52 L937.5,342.52 L939.5,342.52 L941.5,342.52 L943.5,342.52 L945.5,342.52 L947.5,342.52 L949.5,342.52 L951.5,342.52 L953.5,342.52 L955.5,342.52 L957.5,342.52 L959.5,342.52 L961.5,342.52 L963.5,342.52 L965.5,342.52 L967.5,342.52 L969.5,342.52 L971.5,342.52 L973.5,342.52 L975.5,342.52 L977.5,342.52 L979.5,342.52 L981.5,342.52 L983.5,342.52 L985.5,342.52 L987.5,342.52 L989.5,342.52 L991.5,342.52 L993.5,342.52 L995.5,342.52 L997.5,342.52 L999.5,342.52 L1001.5,342.52 L1003.5,342.52 L1005.5,342.52 L1007.5,342.52 L1009.5,342.52 L1011.5,342.52 L1013.5,342.52 L1015.5,342.52 L1016.4,342.52" stroke="#d0142c" stroke-width="5.1"/>
</g>
<path d="M1016.4,303.8h-9.8M1016.4,342.4h-9.8M1016.4,381.1h-9.8" stroke="#000" stroke-width="2.8" fill="none"/>
<g clip-path="url(#cb11)"><path d="M626.4,322.22V335.22M644.62,323.26V336.26M662.84,324.04V337.04M681.06,325.08V338.08M699.28,326.12V339.12M717.5,327.43V340.43M735.72,328.73V341.73M753.94,329.77V342.77M772.16,330.55V343.55M790.38,331.07V344.07M808.6,331.59V344.59M826.82,331.85V344.85M881.48,331.07V344.07M899.7,330.03V343.03M917.92,328.73V341.73M936.14,327.95V340.95M954.36,327.17V340.17M972.58,326.91V339.91M990.8,326.65V339.65M1009.02,326.12V339.12" stroke="#2f80df" stroke-width="2.8" fill="none"/></g>
<path d="M619.5,268.8V415.9M1016.4,268.8V415.9" stroke="#000" stroke-width="2.7" fill="none" stroke-linejoin="miter" stroke-linecap="butt"/>
</g>
<g id="panel-f">
<rect x="1104" y="269" width="216" height="145.2" fill="#c4d1cd"/>
<line x1="1048.5" x2="1445.4" y1="342" y2="342" stroke="#6f7c7c" stroke-width="2.6"/>
<g clip-path="url(#cb12)" fill="none" stroke-linejoin="round">
<path d="M1048.5,312.31 L1050.5,312.17 L1052.5,312.02 L1054.5,311.87 L1056.5,311.7 L1058.5,311.52 L1060.5,311.32 L1062.5,311.12 L1064.5,310.92 L1066.5,310.71 L1068.5,310.5 L1070.5,310.29 L1072.5,310.08 L1074.5,309.88 L1076.5,309.68 L1078.5,309.49 L1080.5,309.29 L1082.5,309.1 L1084.5,308.9 L1086.5,308.7 L1088.5,308.49 L1090.5,308.29 L1092.5,308.08 L1094.5,307.87 L1096.5,307.66 L1098.5,307.45 L1100.5,307.23 L1102.5,307.01 L1104.5,306.78 L1106.5,306.54 L1108.5,306.28 L1110.5,306 L1112.5,305.71 L1114.5,305.4 L1116.5,305.07 L1118.5,304.73 L1120.5,304.36 L1122.5,303.96 L1124.5,303.55 L1126.5,303.1 L1128.5,302.62 L1130.5,302.08 L1132.5,301.47 L1134.5,300.8 L1136.5,300.07 L1138.5,299.31 L1140.5,298.53 L1142.5,297.74 L1144.5,296.95 L1146.5,296.17 L1148.5,295.38 L1150.5,294.58 L1152.5,293.75 L1154.5,292.91 L1156.5,292.07 L1158.5,291.22 L1160.5,290.37 L1162.5,289.53 L1164.5,288.7 L1166.5,287.89 L1168.5,287.06 L1170.5,286.23 L1172.5,285.41 L1174.5,284.59 L1176.5,283.78 L1178.5,282.99 L1180.5,282.23 L1182.5,281.48 L1184.5,280.76 L1186.5,280.02 L1188.5,279.29 L1190.5,278.56 L1192.5,277.86 L1194.5,277.2 L1196.5,276.57 L1198.5,276 L1200.5,275.49 L1202.5,275.03 L1204.5,274.55 L1206.5,274.08 L1208.5,273.63 L1210.5,273.21 L1212.5,272.84 L1214.5,272.55 L1216.5,272.33 L1218.5,272.22 L1220.5,272.21 L1222.5,272.21 L1224.5,272.21 L1226.5,272.21 L1228.5,272.21 L1230.5,272.21 L1232.5,272.21 L1234.5,272.21 L1236.5,272.21 L1238.5,272.22 L1240.5,272.32 L1242.5,272.51 L1244.5,272.78 L1246.5,273.09 L1248.5,273.45 L1250.5,273.83 L1252.5,274.21 L1254.5,274.58 L1256.5,274.93 L1258.5,275.28 L1260.5,275.64 L1262.5,276.02 L1264.5,276.42 L1266.5,276.82 L1268.5,277.24 L1270.5,277.67 L1272.5,278.11 L1274.5,278.56 L1276.5,279.02 L1278.5,279.48 L1280.5,279.95 L1282.5,280.44 L1284.5,280.95 L1286.5,281.47 L1288.5,282.03 L1290.5,282.61 L1292.5,283.22 L1294.5,283.88 L1296.5,284.58 L1298.5,285.32 L1300.5,286.1 L1302.5,286.92 L1304.5,287.77 L1306.5,288.64 L1308.5,289.53 L1310.5,290.45 L1312.5,291.41 L1314.5,292.44 L1316.5,293.53 L1318.5,294.65 L1320.5,295.79 L1322.5,296.93 L1324.5,298.07 L1326.5,299.17 L1328.5,300.23 L1330.5,301.26 L1332.5,302.3 L1334.5,303.34 L1336.5,304.37 L1338.5,305.38 L1340.5,306.36 L1342.5,307.3 L1344.5,308.19 L1346.5,309.02 L1348.5,309.8 L1350.5,310.54 L1352.5,311.25 L1354.5,311.93 L1356.5,312.59 L1358.5,313.22 L1360.5,313.83 L1362.5,314.43 L1364.5,315 L1366.5,315.55 L1368.5,316.08 L1370.5,316.58 L1372.5,317.07 L1374.5,317.55 L1376.5,318.02 L1378.5,318.48 L1380.5,318.94 L1382.5,319.4 L1384.5,319.87 L1386.5,320.35 L1388.5,320.83 L1390.5,321.31 L1392.5,321.78 L1394.5,322.25 L1396.5,322.7 L1398.5,323.14 L1400.5,323.56 L1402.5,323.95 L1404.5,324.33 L1406.5,324.69 L1408.5,325.05 L1410.5,325.39 L1412.5,325.73 L1414.5,326.06 L1416.5,326.38 L1418.5,326.69 L1420.5,327.01 L1422.5,327.33 L1424.5,327.65 L1426.5,327.97 L1428.5,328.28 L1430.5,328.59 L1432.5,328.87 L1434.5,329.12 L1436.5,329.35 L1438.5,329.54 L1440.5,329.71 L1442.5,329.85 L1444.5,329.97 L1445.4,330.02" stroke="#2f80df" stroke-width="5.1"/>
</g>
<path d="M1048.5,289.8h9.8M1048.5,342.3h9.8M1048.5,394.8h9.8" stroke="#000" stroke-width="2.8" fill="none"/>
<g clip-path="url(#cr12)" fill="none" stroke-linejoin="round">
<path d="M1048.5,342.52 L1050.5,342.53 L1052.5,342.54 L1054.5,342.56 L1056.5,342.57 L1058.5,342.59 L1060.5,342.6 L1062.5,342.62 L1064.5,342.64 L1066.5,342.66 L1068.5,342.68 L1070.5,342.7 L1072.5,342.73 L1074.5,342.75 L1076.5,342.77 L1078.5,342.8 L1080.5,342.83 L1082.5,342.87 L1084.5,342.91 L1086.5,342.96 L1088.5,343.01 L1090.5,343.06 L1092.5,343.11 L1094.5,343.15 L1096.5,343.2 L1098.5,343.23 L1100.5,343.26 L1102.5,343.29 L1104.5,343.3 L1106.5,343.3 L1108.5,343.29 L1110.5,343.27 L1112.5,343.24 L1114.5,343.2 L1116.5,343.15 L1118.5,343.1 L1120.5,343.04 L1122.5,342.98 L1124.5,342.92 L1126.5,342.85 L1128.5,342.78 L1130.5,342.72 L1132.5,342.65 L1134.5,342.59 L1136.5,342.54 L1138.5,342.48 L1140.5,342.43 L1142.5,342.36 L1144.5,342.3 L1146.5,342.23 L1148.5,342.16 L1150.5,342.09 L1152.5,342.02 L1154.5,341.95 L1156.5,341.88 L1158.5,341.81 L1160.5,341.75 L1162.5,341.69 L1164.5,341.64 L1166.5,341.59 L1168.5,341.55 L1170.5,341.52 L1172.5,341.5 L1174.5,341.48 L1176.5,341.48 L1178.5,341.49 L1180.5,341.52 L1182.5,341.56 L1184.5,341.61 L1186.5,341.67 L1188.5,341.74 L1190.5,341.82 L1192.5,341.91 L1194.5,342 L1196.5,342.09 L1198.5,342.18 L1200.5,342.27 L1202.5,342.36 L1204.5,342.45 L1206.5,342.53 L1208.5,342.6 L1210.5,342.67 L1212.5,342.72 L1214.5,342.77 L1216.5,342.8 L1218.5,342.83 L1220.5,342.86 L1222.5,342.89 L1224.5,342.92 L1226.5,342.95 L1228.5,342.98 L1230.5,343.01 L1232.5,343.04 L1234.5,343.06 L1236.5,343.09 L1238.5,343.11 L1240.5,343.14 L1242.5,343.16 L1244.5,343.18 L1246.5,343.2 L1248.5,343.22 L1250.5,343.23 L1252.5,343.25 L1254.5,343.26 L1256.5,343.27 L1258.5,343.28 L1260.5,343.29 L1262.5,343.3 L1264.5,343.3 L1266.5,343.3 L1268.5,343.3 L1270.5,343.29 L1272.5,343.28 L1274.5,343.26 L1276.5,343.24 L1278.5,343.22 L1280.5,343.19 L1282.5,343.15 L1284.5,343.12 L1286.5,343.08 L1288.5,343.05 L1290.5,343.01 L1292.5,342.98 L1294.5,342.94 L1296.5,342.91 L1298.5,342.87 L1300.5,342.85 L1302.5,342.82 L1304.5,342.8 L1306.5,342.78 L1308.5,342.77 L1310.5,342.75 L1312.5,342.74 L1314.5,342.72 L1316.5,342.71 L1318.5,342.69 L1320.5,342.68 L1322.5,342.66 L1324.5,342.65 L1326.5,342.64 L1328.5,342.63 L1330.5,342.61 L1332.5,342.6 L1334.5,342.59 L1336.5,342.58 L1338.5,342.57 L1340.5,342.56 L1342.5,342.55 L1344.5,342.55 L1346.5,342.54 L1348.5,342.53 L1350.5,342.53 L1352.5,342.53 L1354.5,342.52 L1356.5,342.52 L1358.5,342.52 L1360.5,342.52 L1362.5,342.52 L1364.5,342.52 L1366.5,342.52 L1368.5,342.52 L1370.5,342.52 L1372.5,342.52 L1374.5,342.52 L1376.5,342.52 L1378.5,342.52 L1380.5,342.52 L1382.5,342.52 L1384.5,342.52 L1386.5,342.52 L1388.5,342.52 L1390.5,342.52 L1392.5,342.52 L1394.5,342.52 L1396.5,342.52 L1398.5,342.52 L1400.5,342.52 L1402.5,342.52 L1404.5,342.52 L1406.5,342.52 L1408.5,342.52 L1410.5,342.52 L1412.5,342.52 L1414.5,342.52 L1416.5,342.52 L1418.5,342.52 L1420.5,342.52 L1422.5,342.52 L1424.5,342.52 L1426.5,342.52 L1428.5,342.52 L1430.5,342.52 L1432.5,342.52 L1434.5,342.52 L1436.5,342.52 L1438.5,342.52 L1440.5,342.52 L1442.5,342.52 L1444.5,342.52 L1445.4,342.52" stroke="#d0142c" stroke-width="5.1"/>
</g>
<path d="M1445.4,303.8h-9.8M1445.4,342.4h-9.8M1445.4,381.1h-9.8" stroke="#000" stroke-width="2.8" fill="none"/>
<g clip-path="url(#cb12)"><path d="M1055.4,305.29V318.29M1073.62,303.47V316.47M1091.84,301.65V314.65M1110.06,299.56V312.56M1128.28,296.18V309.18M1146.5,289.67V302.67M1164.72,282.11V295.11M1182.94,274.82V287.82M1201.16,268.83V281.83M1219.38,265.71V278.71M1237.6,265.71V278.71M1255.82,268.31V281.31M1274.04,271.96V284.96M1292.26,276.65V289.65M1310.48,283.94V296.94M1328.7,293.83V306.83M1346.92,302.69V315.69M1365.14,308.68V321.68M1383.36,313.1V326.1M1401.58,317.27V330.27M1419.8,320.4V333.4M1438.02,323V336" stroke="#2f80df" stroke-width="2.8" fill="none"/></g>
<path d="M1048.5,268.8V415.9M1445.4,268.8V415.9" stroke="#000" stroke-width="2.7" fill="none" stroke-linejoin="miter" stroke-linecap="butt"/>
</g>
<g id="panel-g">
<rect x="246.6" y="446.2" width="215.4" height="145.2" fill="#c4d1cd"/>
<line x1="190.5" x2="587.4" y1="519.6" y2="519.6" stroke="#6f7c7c" stroke-width="5.2"/>
<g clip-path="url(#cb20)" fill="none" stroke-linejoin="round">
<path d="M190.5,501.29 L192.5,501.29 L194.5,501.29 L196.5,501.29 L198.5,501.29 L200.5,501.29 L202.5,501.29 L204.5,501.29 L206.5,501.29 L208.5,501.29 L210.5,501.29 L212.5,501.29 L214.5,501.29 L216.5,501.29 L218.5,501.27 L220.5,501.23 L222.5,501.17 L224.5,501.1 L226.5,501.03 L228.5,500.96 L230.5,500.88 L232.5,500.81 L234.5,500.75 L236.5,500.7 L238.5,500.64 L240.5,500.59 L242.5,500.54 L244.5,500.48 L246.5,500.42 L248.5,500.36 L250.5,500.3 L252.5,500.23 L254.5,500.16 L256.5,500.08 L258.5,500 L260.5,499.91 L262.5,499.82 L264.5,499.73 L266.5,499.64 L268.5,499.55 L270.5,499.46 L272.5,499.38 L274.5,499.29 L276.5,499.21 L278.5,499.13 L280.5,499.05 L282.5,498.96 L284.5,498.87 L286.5,498.78 L288.5,498.69 L290.5,498.59 L292.5,498.48 L294.5,498.37 L296.5,498.26 L298.5,498.15 L300.5,498.03 L302.5,497.91 L304.5,497.79 L306.5,497.66 L308.5,497.53 L310.5,497.39 L312.5,497.24 L314.5,497.1 L316.5,496.94 L318.5,496.79 L320.5,496.65 L322.5,496.51 L324.5,496.37 L326.5,496.25 L328.5,496.13 L330.5,496.01 L332.5,495.9 L334.5,495.78 L336.5,495.67 L338.5,495.56 L340.5,495.45 L342.5,495.34 L344.5,495.22 L346.5,495.1 L348.5,494.98 L350.5,494.85 L352.5,494.72 L354.5,494.6 L356.5,494.49 L358.5,494.39 L360.5,494.3 L362.5,494.22 L364.5,494.14 L366.5,494.06 L368.5,493.98 L370.5,493.91 L372.5,493.85 L374.5,493.8 L376.5,493.76 L378.5,493.74 L380.5,493.74 L382.5,493.74 L384.5,493.74 L386.5,493.74 L388.5,493.74 L390.5,493.74 L392.5,493.74 L394.5,493.74 L396.5,493.74 L398.5,493.74 L400.5,493.78 L402.5,493.87 L404.5,493.99 L406.5,494.15 L408.5,494.32 L410.5,494.51 L412.5,494.7 L414.5,494.9 L416.5,495.08 L418.5,495.29 L420.5,495.51 L422.5,495.75 L424.5,496.01 L426.5,496.28 L428.5,496.56 L430.5,496.85 L432.5,497.13 L434.5,497.42 L436.5,497.71 L438.5,498.02 L440.5,498.33 L442.5,498.66 L444.5,498.98 L446.5,499.31 L448.5,499.63 L450.5,499.95 L452.5,500.25 L454.5,500.55 L456.5,500.84 L458.5,501.13 L460.5,501.41 L462.5,501.7 L464.5,501.98 L466.5,502.26 L468.5,502.54 L470.5,502.83 L472.5,503.12 L474.5,503.41 L476.5,503.71 L478.5,504.02 L480.5,504.32 L482.5,504.61 L484.5,504.89 L486.5,505.16 L488.5,505.41 L490.5,505.64 L492.5,505.86 L494.5,506.06 L496.5,506.26 L498.5,506.45 L500.5,506.64 L502.5,506.83 L504.5,507.02 L506.5,507.22 L508.5,507.42 L510.5,507.62 L512.5,507.83 L514.5,508.03 L516.5,508.24 L518.5,508.44 L520.5,508.64 L522.5,508.83 L524.5,509.02 L526.5,509.21 L528.5,509.4 L530.5,509.58 L532.5,509.76 L534.5,509.94 L536.5,510.12 L538.5,510.28 L540.5,510.44 L542.5,510.59 L544.5,510.73 L546.5,510.86 L548.5,510.98 L550.5,511.09 L552.5,511.2 L554.5,511.31 L556.5,511.42 L558.5,511.53 L560.5,511.63 L562.5,511.75 L564.5,511.87 L566.5,511.99 L568.5,512.11 L570.5,512.24 L572.5,512.36 L574.5,512.47 L576.5,512.58 L578.5,512.68 L580.5,512.77 L582.5,512.85 L584.5,512.92 L586.5,512.98 L587.4,513.01" stroke="#2f80df" stroke-width="5.1"/>
</g>
<path d="M190.5,467h9.8M190.5,519.5h9.8M190.5,572h9.8" stroke="#000" stroke-width="2.8" fill="none"/>
<g clip-path="url(#cr20)" fill="none" stroke-linejoin="round">
<path d="M190.5,518.74 L192.5,518.73 L194.5,518.72 L196.5,518.71 L198.5,518.7 L200.5,518.68 L202.5,518.67 L204.5,518.66 L206.5,518.65 L208.5,518.64 L210.5,518.63 L212.5,518.62 L214.5,518.61 L216.5,518.6 L218.5,518.59 L220.5,518.58 L222.5,518.57 L224.5,518.56 L226.5,518.55 L228.5,518.54 L230.5,518.53 L232.5,518.52 L234.5,518.51 L236.5,518.5 L238.5,518.49 L240.5,518.48 L242.5,518.47 L244.5,518.45 L246.5,518.44 L248.5,518.43 L250.5,518.42 L252.5,518.41 L254.5,518.39 L256.5,518.38 L258.5,518.37 L260.5,518.35 L262.5,518.34 L264.5,518.33 L266.5,518.31 L268.5,518.3 L270.5,518.29 L272.5,518.28 L274.5,518.27 L276.5,518.26 L278.5,518.25 L280.5,518.24 L282.5,518.23 L284.5,518.23 L286.5,518.22 L288.5,518.22 L290.5,518.22 L292.5,518.22 L294.5,518.22 L296.5,518.22 L298.5,518.22 L300.5,518.22 L302.5,518.22 L304.5,518.22 L306.5,518.23 L308.5,518.23 L310.5,518.23 L312.5,518.23 L314.5,518.24 L316.5,518.24 L318.5,518.24 L320.5,518.25 L322.5,518.25 L324.5,518.25 L326.5,518.26 L328.5,518.26 L330.5,518.27 L332.5,518.27 L334.5,518.27 L336.5,518.28 L338.5,518.28 L340.5,518.29 L342.5,518.3 L344.5,518.3 L346.5,518.31 L348.5,518.31 L350.5,518.32 L352.5,518.32 L354.5,518.33 L356.5,518.34 L358.5,518.34 L360.5,518.35 L362.5,518.36 L364.5,518.36 L366.5,518.37 L368.5,518.38 L370.5,518.38 L372.5,518.39 L374.5,518.4 L376.5,518.41 L378.5,518.41 L380.5,518.42 L382.5,518.43 L384.5,518.44 L386.5,518.44 L388.5,518.45 L390.5,518.46 L392.5,518.46 L394.5,518.47 L396.5,518.48 L398.5,518.49 L400.5,518.5 L402.5,518.51 L404.5,518.52 L406.5,518.53 L408.5,518.54 L410.5,518.55 L412.5,518.57 L414.5,518.58 L416.5,518.59 L418.5,518.61 L420.5,518.62 L422.5,518.64 L424.5,518.65 L426.5,518.67 L428.5,518.69 L430.5,518.7 L432.5,518.72 L434.5,518.73 L436.5,518.75 L438.5,518.77 L440.5,518.78 L442.5,518.8 L444.5,518.82 L446.5,518.83 L448.5,518.85 L450.5,518.86 L452.5,518.88 L454.5,518.89 L456.5,518.9 L458.5,518.92 L460.5,518.93 L462.5,518.94 L464.5,518.95 L466.5,518.96 L468.5,518.97 L470.5,518.98 L472.5,518.99 L474.5,519 L476.5,519.01 L478.5,519.01 L480.5,519.02 L482.5,519.03 L484.5,519.04 L486.5,519.04 L488.5,519.05 L490.5,519.06 L492.5,519.06 L494.5,519.07 L496.5,519.08 L498.5,519.08 L500.5,519.09 L502.5,519.1 L504.5,519.1 L506.5,519.11 L508.5,519.12 L510.5,519.12 L512.5,519.13 L514.5,519.13 L516.5,519.14 L518.5,519.15 L520.5,519.15 L522.5,519.16 L524.5,519.16 L526.5,519.17 L528.5,519.17 L530.5,519.18 L532.5,519.18 L534.5,519.19 L536.5,519.19 L538.5,519.2 L540.5,519.2 L542.5,519.21 L544.5,519.21 L546.5,519.22 L548.5,519.22 L550.5,519.22 L552.5,519.23 L554.5,519.23 L556.5,519.23 L558.5,519.24 L560.5,519.24 L562.5,519.24 L564.5,519.25 L566.5,519.25 L568.5,519.25 L570.5,519.25 L572.5,519.25 L574.5,519.26 L576.5,519.26 L578.5,519.26 L580.5,519.26 L582.5,519.26 L584.5,519.26 L586.5,519.26 L587.4,519.26" stroke="#d0142c" stroke-width="5.1"/>
</g>
<path d="M587.4,481h-9.8M587.4,519.6h-9.8M587.4,558.3h-9.8" stroke="#000" stroke-width="2.8" fill="none"/>
<g clip-path="url(#cb20)"><path d="M197.4,494.79V507.79M215.62,494.79V507.79M233.84,494.27V507.27M252.06,493.75V506.75M270.28,492.97V505.97M288.5,492.19V505.19M306.72,491.15V504.15M324.94,489.84V502.84M343.16,488.8V501.8M361.38,487.76V500.76M379.6,487.24V500.24M397.82,487.24V500.24M416.04,488.54V501.54M434.26,490.89V503.89M452.48,493.75V506.75M470.7,496.35V509.35M488.92,498.96V511.96M507.14,500.78V513.78M525.36,502.6V515.6M543.58,504.17V517.17M561.8,505.21V518.21M580.02,506.25V519.25" stroke="#2f80df" stroke-width="2.8" fill="none"/></g>
<g clip-path="url(#cb20)"><path d="M197.4,512.2V525.2M215.62,512.11V525.11M233.84,512.01V525.01M252.06,511.91V524.91M270.28,511.79V524.79M288.5,511.72V524.72M306.72,511.73V524.73M324.94,511.75V524.75M343.16,511.8V524.8M361.38,511.85V524.85M379.6,511.92V524.92M397.82,511.98V524.98M416.04,512.09V525.09M434.26,512.23V525.23M452.48,512.38V525.38M470.7,512.49V525.49M488.92,512.55V525.55M507.14,512.61V525.61M525.36,512.67V525.67M543.58,512.71V525.71M561.8,512.74V525.74" stroke="#d0142c" stroke-width="2.8" fill="none"/></g>
<path d="M190.5,446V593.1M587.4,446V593.1" stroke="#000" stroke-width="2.7" fill="none" stroke-linejoin="miter" stroke-linecap="butt"/>
</g>
<g id="panel-h">
<rect x="675.3" y="446.2" width="215.7" height="145.2" fill="#c4d1cd"/>
<line x1="619.5" x2="1016.4" y1="519.6" y2="519.6" stroke="#6f7c7c" stroke-width="5.2"/>
<g clip-path="url(#cb21)" fill="none" stroke-linejoin="round">
<path d="M619.5,505.46 L621.5,505.63 L623.5,505.78 L625.5,505.92 L627.5,506.04 L629.5,506.14 L631.5,506.24 L633.5,506.32 L635.5,506.4 L637.5,506.48 L639.5,506.56 L641.5,506.63 L643.5,506.71 L645.5,506.8 L647.5,506.88 L649.5,506.96 L651.5,507.05 L653.5,507.13 L655.5,507.21 L657.5,507.3 L659.5,507.38 L661.5,507.48 L663.5,507.57 L665.5,507.68 L667.5,507.78 L669.5,507.89 L671.5,508 L673.5,508.12 L675.5,508.24 L677.5,508.36 L679.5,508.48 L681.5,508.61 L683.5,508.74 L685.5,508.88 L687.5,509.02 L689.5,509.17 L691.5,509.31 L693.5,509.46 L695.5,509.61 L697.5,509.76 L699.5,509.9 L701.5,510.05 L703.5,510.19 L705.5,510.34 L707.5,510.49 L709.5,510.64 L711.5,510.78 L713.5,510.92 L715.5,511.06 L717.5,511.19 L719.5,511.31 L721.5,511.42 L723.5,511.53 L725.5,511.64 L727.5,511.74 L729.5,511.85 L731.5,511.96 L733.5,512.08 L735.5,512.21 L737.5,512.36 L739.5,512.52 L741.5,512.7 L743.5,512.89 L745.5,513.07 L747.5,513.26 L749.5,513.44 L751.5,513.61 L753.5,513.76 L755.5,513.9 L757.5,514.03 L759.5,514.16 L761.5,514.29 L763.5,514.41 L765.5,514.52 L767.5,514.63 L769.5,514.72 L771.5,514.81 L773.5,514.88 L775.5,514.95 L777.5,515.02 L779.5,515.08 L781.5,515.14 L783.5,515.2 L785.5,515.25 L787.5,515.29 L789.5,515.34 L791.5,515.38 L793.5,515.42 L795.5,515.45 L797.5,515.49 L799.5,515.53 L801.5,515.56 L803.5,515.58 L805.5,515.6 L807.5,515.61 L809.5,515.61 L811.5,515.6 L813.5,515.58 L815.5,515.55 L817.5,515.52 L819.5,515.48 L821.5,515.45 L823.5,515.41 L825.5,515.37 L827.5,515.34 L829.5,515.32 L831.5,515.29 L833.5,515.27 L835.5,515.24 L837.5,515.21 L839.5,515.19 L841.5,515.16 L843.5,515.12 L845.5,515.08 L847.5,515.04 L849.5,515 L851.5,514.95 L853.5,514.9 L855.5,514.84 L857.5,514.78 L859.5,514.72 L861.5,514.64 L863.5,514.56 L865.5,514.47 L867.5,514.36 L869.5,514.23 L871.5,514.09 L873.5,513.94 L875.5,513.78 L877.5,513.62 L879.5,513.44 L881.5,513.27 L883.5,513.08 L885.5,512.86 L887.5,512.62 L889.5,512.37 L891.5,512.11 L893.5,511.86 L895.5,511.62 L897.5,511.4 L899.5,511.21 L901.5,511.03 L903.5,510.86 L905.5,510.69 L907.5,510.53 L909.5,510.38 L911.5,510.24 L913.5,510.11 L915.5,510 L917.5,509.9 L919.5,509.82 L921.5,509.74 L923.5,509.66 L925.5,509.58 L927.5,509.52 L929.5,509.46 L931.5,509.41 L933.5,509.38 L935.5,509.37 L937.5,509.36 L939.5,509.36 L941.5,509.36 L943.5,509.36 L945.5,509.36 L947.5,509.36 L949.5,509.36 L951.5,509.36 L953.5,509.36 L955.5,509.36 L957.5,509.36 L959.5,509.36 L961.5,509.36 L963.5,509.36 L965.5,509.36 L967.5,509.36 L969.5,509.36 L971.5,509.36 L973.5,509.36 L975.5,509.35 L977.5,509.32 L979.5,509.28 L981.5,509.24 L983.5,509.2 L985.5,509.16 L987.5,509.13 L989.5,509.11 L991.5,509.1 L993.5,509.1 L995.5,509.1 L997.5,509.1 L999.5,509.1 L1001.5,509.1 L1003.5,509.1 L1005.5,509.1 L1007.5,509.1 L1009.5,509.1 L1011.5,509.1 L1013.5,509.1 L1015.5,509.1 L1016.4,509.1" stroke="#2f80df" stroke-width="5.1"/>
</g>
<path d="M619.5,467h9.8M619.5,519.5h9.8M619.5,572h9.8" stroke="#000" stroke-width="2.8" fill="none"/>
<g clip-path="url(#cr21)" fill="none" stroke-linejoin="round">
<path d="M619.5,519.78 L621.5,519.77 L623.5,519.77 L625.5,519.76 L627.5,519.76 L629.5,519.75 L631.5,519.75 L633.5,519.74 L635.5,519.73 L637.5,519.73 L639.5,519.72 L641.5,519.71 L643.5,519.71 L645.5,519.7 L647.5,519.7 L649.5,519.69 L651.5,519.68 L653.5,519.68 L655.5,519.67 L657.5,519.66 L659.5,519.65 L661.5,519.65 L663.5,519.64 L665.5,519.63 L667.5,519.63 L669.5,519.62 L671.5,519.61 L673.5,519.6 L675.5,519.6 L677.5,519.59 L679.5,519.58 L681.5,519.57 L683.5,519.57 L685.5,519.56 L687.5,519.55 L689.5,519.54 L691.5,519.54 L693.5,519.53 L695.5,519.52 L697.5,519.51 L699.5,519.5 L701.5,519.49 L703.5,519.48 L705.5,519.47 L707.5,519.46 L709.5,519.45 L711.5,519.44 L713.5,519.43 L715.5,519.42 L717.5,519.4 L719.5,519.39 L721.5,519.38 L723.5,519.37 L725.5,519.35 L727.5,519.34 L729.5,519.33 L731.5,519.31 L733.5,519.3 L735.5,519.29 L737.5,519.27 L739.5,519.26 L741.5,519.25 L743.5,519.23 L745.5,519.22 L747.5,519.21 L749.5,519.19 L751.5,519.18 L753.5,519.17 L755.5,519.16 L757.5,519.14 L759.5,519.13 L761.5,519.12 L763.5,519.11 L765.5,519.1 L767.5,519.09 L769.5,519.08 L771.5,519.07 L773.5,519.06 L775.5,519.05 L777.5,519.04 L779.5,519.04 L781.5,519.03 L783.5,519.02 L785.5,519.02 L787.5,519.01 L789.5,519.01 L791.5,519.01 L793.5,519 L795.5,519 L797.5,519 L799.5,519 L801.5,519 L803.5,519.01 L805.5,519.01 L807.5,519.03 L809.5,519.04 L811.5,519.05 L813.5,519.07 L815.5,519.09 L817.5,519.12 L819.5,519.14 L821.5,519.17 L823.5,519.19 L825.5,519.22 L827.5,519.25 L829.5,519.29 L831.5,519.32 L833.5,519.35 L835.5,519.39 L837.5,519.42 L839.5,519.46 L841.5,519.49 L843.5,519.53 L845.5,519.57 L847.5,519.6 L849.5,519.64 L851.5,519.67 L853.5,519.71 L855.5,519.74 L857.5,519.78 L859.5,519.81 L861.5,519.84 L863.5,519.87 L865.5,519.9 L867.5,519.93 L869.5,519.96 L871.5,519.98 L873.5,520 L875.5,520.02 L877.5,520.04 L879.5,520.06 L881.5,520.08 L883.5,520.1 L885.5,520.11 L887.5,520.13 L889.5,520.15 L891.5,520.17 L893.5,520.19 L895.5,520.2 L897.5,520.22 L899.5,520.23 L901.5,520.25 L903.5,520.26 L905.5,520.27 L907.5,520.28 L909.5,520.29 L911.5,520.3 L913.5,520.3 L915.5,520.3 L917.5,520.3 L919.5,520.3 L921.5,520.29 L923.5,520.28 L925.5,520.26 L927.5,520.24 L929.5,520.22 L931.5,520.2 L933.5,520.17 L935.5,520.14 L937.5,520.11 L939.5,520.08 L941.5,520.04 L943.5,520.01 L945.5,519.97 L947.5,519.94 L949.5,519.9 L951.5,519.87 L953.5,519.83 L955.5,519.8 L957.5,519.76 L959.5,519.73 L961.5,519.7 L963.5,519.67 L965.5,519.64 L967.5,519.61 L969.5,519.59 L971.5,519.57 L973.5,519.55 L975.5,519.54 L977.5,519.53 L979.5,519.52 L981.5,519.52 L983.5,519.52 L985.5,519.52 L987.5,519.52 L989.5,519.52 L991.5,519.52 L993.5,519.52 L995.5,519.52 L997.5,519.52 L999.5,519.52 L1001.5,519.52 L1003.5,519.52 L1005.5,519.52 L1007.5,519.52 L1009.5,519.52 L1011.5,519.52 L1013.5,519.52 L1015.5,519.52 L1016.4,519.52" stroke="#d0142c" stroke-width="5.1"/>
</g>
<path d="M1016.4,481h-9.8M1016.4,519.6h-9.8M1016.4,558.3h-9.8" stroke="#000" stroke-width="2.8" fill="none"/>
<g clip-path="url(#cb21)"><path d="M626.4,499.48V512.48M644.62,500.26V513.26M662.84,501.04V514.04M681.06,502.08V515.08M699.28,503.39V516.39M717.5,504.69V517.69M735.72,505.73V518.73M753.94,507.29V520.29M772.16,508.33V521.33M881.48,506.77V519.77M899.7,504.69V517.69M917.92,503.39V516.39M936.14,502.86V515.86M954.36,502.86V515.86M972.58,502.86V515.86M990.8,502.6V515.6M1009.02,502.6V515.6" stroke="#2f80df" stroke-width="2.8" fill="none"/></g>
<path d="M619.5,446V593.1M1016.4,446V593.1" stroke="#000" stroke-width="2.7" fill="none" stroke-linejoin="miter" stroke-linecap="butt"/>
</g>
<g id="panel-i">
<rect x="1104" y="446.2" width="216" height="145.2" fill="#c4d1cd"/>
<line x1="1048.5" x2="1445.4" y1="519.2" y2="519.2" stroke="#6f7c7c" stroke-width="2.6"/>
<g clip-path="url(#cb22)" fill="none" stroke-linejoin="round">
<path d="M1048.5,494.26 L1050.5,493.85 L1052.5,493.45 L1054.5,493.1 L1056.5,492.8 L1058.5,492.53 L1060.5,492.28 L1062.5,492.05 L1064.5,491.82 L1066.5,491.61 L1068.5,491.41 L1070.5,491.2 L1072.5,490.99 L1074.5,490.78 L1076.5,490.57 L1078.5,490.37 L1080.5,490.17 L1082.5,489.97 L1084.5,489.77 L1086.5,489.58 L1088.5,489.38 L1090.5,489.19 L1092.5,488.99 L1094.5,488.78 L1096.5,488.57 L1098.5,488.36 L1100.5,488.15 L1102.5,487.94 L1104.5,487.74 L1106.5,487.55 L1108.5,487.36 L1110.5,487.19 L1112.5,487.03 L1114.5,486.88 L1116.5,486.74 L1118.5,486.6 L1120.5,486.46 L1122.5,486.33 L1124.5,486.19 L1126.5,486.05 L1128.5,485.91 L1130.5,485.77 L1132.5,485.64 L1134.5,485.52 L1136.5,485.39 L1138.5,485.26 L1140.5,485.12 L1142.5,484.97 L1144.5,484.81 L1146.5,484.62 L1148.5,484.43 L1150.5,484.23 L1152.5,484.01 L1154.5,483.77 L1156.5,483.5 L1158.5,483.2 L1160.5,482.87 L1162.5,482.49 L1164.5,482.07 L1166.5,481.5 L1168.5,480.68 L1170.5,479.66 L1172.5,478.48 L1174.5,477.22 L1176.5,475.92 L1178.5,474.63 L1180.5,473.42 L1182.5,472.34 L1184.5,471.39 L1186.5,470.46 L1188.5,469.56 L1190.5,468.68 L1192.5,467.82 L1194.5,466.99 L1196.5,466.17 L1198.5,465.36 L1200.5,464.57 L1202.5,463.78 L1204.5,462.98 L1206.5,462.16 L1208.5,461.36 L1210.5,460.58 L1212.5,459.84 L1214.5,459.15 L1216.5,458.54 L1218.5,458 L1220.5,457.56 L1222.5,457.11 L1224.5,456.67 L1226.5,456.25 L1228.5,455.87 L1230.5,455.53 L1232.5,455.26 L1234.5,455.06 L1236.5,454.95 L1238.5,454.94 L1240.5,454.98 L1242.5,455.06 L1244.5,455.16 L1246.5,455.29 L1248.5,455.43 L1250.5,455.58 L1252.5,455.74 L1254.5,455.89 L1256.5,456.03 L1258.5,456.16 L1260.5,456.29 L1262.5,456.43 L1264.5,456.58 L1266.5,456.74 L1268.5,456.92 L1270.5,457.12 L1272.5,457.35 L1274.5,457.61 L1276.5,457.94 L1278.5,458.37 L1280.5,458.87 L1282.5,459.44 L1284.5,460.06 L1286.5,460.72 L1288.5,461.41 L1290.5,462.12 L1292.5,462.84 L1294.5,463.6 L1296.5,464.45 L1298.5,465.36 L1300.5,466.32 L1302.5,467.32 L1304.5,468.33 L1306.5,469.35 L1308.5,470.37 L1310.5,471.35 L1312.5,472.34 L1314.5,473.35 L1316.5,474.37 L1318.5,475.39 L1320.5,476.42 L1322.5,477.44 L1324.5,478.44 L1326.5,479.42 L1328.5,480.37 L1330.5,481.29 L1332.5,482.21 L1334.5,483.12 L1336.5,484.01 L1338.5,484.89 L1340.5,485.74 L1342.5,486.57 L1344.5,487.36 L1346.5,488.12 L1348.5,488.84 L1350.5,489.53 L1352.5,490.19 L1354.5,490.84 L1356.5,491.46 L1358.5,492.07 L1360.5,492.66 L1362.5,493.25 L1364.5,493.82 L1366.5,494.38 L1368.5,494.93 L1370.5,495.47 L1372.5,496 L1374.5,496.52 L1376.5,497.03 L1378.5,497.52 L1380.5,498.01 L1382.5,498.49 L1384.5,498.95 L1386.5,499.42 L1388.5,499.89 L1390.5,500.34 L1392.5,500.79 L1394.5,501.22 L1396.5,501.64 L1398.5,502.03 L1400.5,502.4 L1402.5,502.75 L1404.5,503.08 L1406.5,503.39 L1408.5,503.68 L1410.5,503.97 L1412.5,504.25 L1414.5,504.51 L1416.5,504.78 L1418.5,505.03 L1420.5,505.29 L1422.5,505.54 L1424.5,505.8 L1426.5,506.04 L1428.5,506.29 L1430.5,506.52 L1432.5,506.75 L1434.5,506.95 L1436.5,507.15 L1438.5,507.32 L1440.5,507.48 L1442.5,507.62 L1444.5,507.75 L1445.4,507.8" stroke="#2f80df" stroke-width="5.1"/>
</g>
<path d="M1048.5,467h9.8M1048.5,519.5h9.8M1048.5,572h9.8" stroke="#000" stroke-width="2.8" fill="none"/>
<g clip-path="url(#cr22)" fill="none" stroke-linejoin="round">
<path d="M1048.5,516.92 L1050.5,516.83 L1052.5,516.75 L1054.5,516.68 L1056.5,516.63 L1058.5,516.6 L1060.5,516.57 L1062.5,516.55 L1064.5,516.52 L1066.5,516.5 L1068.5,516.48 L1070.5,516.45 L1072.5,516.42 L1074.5,516.38 L1076.5,516.32 L1078.5,516.26 L1080.5,516.19 L1082.5,516.1 L1084.5,516.01 L1086.5,515.91 L1088.5,515.81 L1090.5,515.69 L1092.5,515.57 L1094.5,515.42 L1096.5,515.23 L1098.5,515.01 L1100.5,514.78 L1102.5,514.55 L1104.5,514.32 L1106.5,514.11 L1108.5,513.92 L1110.5,513.76 L1112.5,513.62 L1114.5,513.5 L1116.5,513.38 L1118.5,513.27 L1120.5,513.17 L1122.5,513.06 L1124.5,512.96 L1126.5,512.85 L1128.5,512.74 L1130.5,512.62 L1132.5,512.51 L1134.5,512.4 L1136.5,512.29 L1138.5,512.18 L1140.5,512.07 L1142.5,511.95 L1144.5,511.83 L1146.5,511.71 L1148.5,511.56 L1150.5,511.39 L1152.5,511.21 L1154.5,511.02 L1156.5,510.83 L1158.5,510.67 L1160.5,510.54 L1162.5,510.44 L1164.5,510.41 L1166.5,510.42 L1168.5,510.45 L1170.5,510.51 L1172.5,510.57 L1174.5,510.65 L1176.5,510.73 L1178.5,510.8 L1180.5,510.87 L1182.5,510.92 L1184.5,510.95 L1186.5,510.98 L1188.5,511.01 L1190.5,511.03 L1192.5,511.05 L1194.5,511.08 L1196.5,511.1 L1198.5,511.13 L1200.5,511.17 L1202.5,511.22 L1204.5,511.3 L1206.5,511.39 L1208.5,511.5 L1210.5,511.62 L1212.5,511.75 L1214.5,511.89 L1216.5,512.03 L1218.5,512.17 L1220.5,512.31 L1222.5,512.46 L1224.5,512.63 L1226.5,512.81 L1228.5,512.99 L1230.5,513.17 L1232.5,513.36 L1234.5,513.53 L1236.5,513.7 L1238.5,513.86 L1240.5,514.04 L1242.5,514.23 L1244.5,514.42 L1246.5,514.6 L1248.5,514.77 L1250.5,514.91 L1252.5,515.02 L1254.5,515.08 L1256.5,515.09 L1258.5,515.09 L1260.5,515.09 L1262.5,515.09 L1264.5,515.09 L1266.5,515.09 L1268.5,515.09 L1270.5,515.09 L1272.5,515.09 L1274.5,515.1 L1276.5,515.14 L1278.5,515.23 L1280.5,515.36 L1282.5,515.51 L1284.5,515.67 L1286.5,515.83 L1288.5,515.97 L1290.5,516.08 L1292.5,516.14 L1294.5,516.18 L1296.5,516.21 L1298.5,516.23 L1300.5,516.25 L1302.5,516.27 L1304.5,516.3 L1306.5,516.32 L1308.5,516.35 L1310.5,516.4 L1312.5,516.47 L1314.5,516.59 L1316.5,516.74 L1318.5,516.91 L1320.5,517.09 L1322.5,517.27 L1324.5,517.44 L1326.5,517.58 L1328.5,517.69 L1330.5,517.77 L1332.5,517.85 L1334.5,517.93 L1336.5,518.01 L1338.5,518.07 L1340.5,518.13 L1342.5,518.17 L1344.5,518.21 L1346.5,518.22 L1348.5,518.22 L1350.5,518.22 L1352.5,518.22 L1354.5,518.22 L1356.5,518.22 L1358.5,518.22 L1360.5,518.22 L1362.5,518.22 L1364.5,518.22 L1366.5,518.22 L1368.5,518.23 L1370.5,518.26 L1372.5,518.29 L1374.5,518.32 L1376.5,518.36 L1378.5,518.4 L1380.5,518.43 L1382.5,518.47 L1384.5,518.5 L1386.5,518.52 L1388.5,518.55 L1390.5,518.58 L1392.5,518.61 L1394.5,518.64 L1396.5,518.67 L1398.5,518.7 L1400.5,518.72 L1402.5,518.75 L1404.5,518.78 L1406.5,518.81 L1408.5,518.83 L1410.5,518.86 L1412.5,518.88 L1414.5,518.91 L1416.5,518.94 L1418.5,518.98 L1420.5,519.01 L1422.5,519.07 L1424.5,519.14 L1426.5,519.21 L1428.5,519.29 L1430.5,519.36 L1432.5,519.43 L1434.5,519.48 L1436.5,519.51 L1438.5,519.52 L1440.5,519.52 L1442.5,519.52 L1444.5,519.52 L1445.4,519.52" stroke="#d0142c" stroke-width="5.1"/>
</g>
<path d="M1445.4,481h-9.8M1445.4,519.6h-9.8M1445.4,558.3h-9.8" stroke="#000" stroke-width="2.8" fill="none"/>
<g clip-path="url(#cb22)"><path d="M1055.4,486.46V499.46M1073.62,484.38V497.38M1091.84,482.55V495.55M1110.06,480.73V493.73M1128.28,479.43V492.43M1146.5,478.12V491.12M1164.72,475.52V488.52M1182.94,465.62V478.62M1201.16,457.81V470.81M1219.38,451.3V464.3M1237.6,448.44V461.44M1255.82,449.48V462.48M1274.04,451.04V464.04M1292.26,456.25V469.25M1310.48,464.84V477.84M1328.7,473.96V486.96M1346.92,481.77V494.77M1365.14,487.5V500.5M1383.36,492.19V505.19M1401.58,496.09V509.09M1419.8,498.7V511.7M1438.02,500.78V513.78" stroke="#2f80df" stroke-width="2.8" fill="none"/></g>
<g clip-path="url(#cb22)"><path d="M1110.06,507.29V520.29M1128.28,506.25V519.25M1146.5,505.21V518.21M1164.72,503.91V516.91M1182.94,504.43V517.43M1201.16,504.69V517.69M1219.38,505.73V518.73M1310.48,509.9V522.9" stroke="#d0142c" stroke-width="2.8" fill="none"/></g>
<path d="M1048.5,446V593.1M1445.4,446V593.1" stroke="#000" stroke-width="2.7" fill="none" stroke-linejoin="miter" stroke-linecap="butt"/>
</g>
<g id="panel-j">
<rect x="246.6" y="623.4" width="215.4" height="145.2" fill="#c4d1cd"/>
<line x1="190.5" x2="587.4" y1="696.8" y2="696.8" stroke="#6f7c7c" stroke-width="5.2"/>
<g clip-path="url(#cb30)" fill="none" stroke-linejoin="round">
<path d="M190.5,684.28 L192.5,684.19 L194.5,684.11 L196.5,684.04 L198.5,684 L200.5,683.96 L202.5,683.93 L204.5,683.9 L206.5,683.87 L208.5,683.85 L210.5,683.83 L212.5,683.8 L214.5,683.78 L216.5,683.75 L218.5,683.72 L220.5,683.7 L222.5,683.67 L224.5,683.64 L226.5,683.62 L228.5,683.59 L230.5,683.56 L232.5,683.52 L234.5,683.49 L236.5,683.44 L238.5,683.38 L240.5,683.32 L242.5,683.25 L244.5,683.19 L246.5,683.12 L248.5,683.06 L250.5,683.01 L252.5,682.97 L254.5,682.94 L256.5,682.9 L258.5,682.87 L260.5,682.85 L262.5,682.82 L264.5,682.8 L266.5,682.77 L268.5,682.74 L270.5,682.72 L272.5,682.69 L274.5,682.66 L276.5,682.64 L278.5,682.61 L280.5,682.58 L282.5,682.56 L284.5,682.53 L286.5,682.49 L288.5,682.46 L290.5,682.42 L292.5,682.37 L294.5,682.32 L296.5,682.26 L298.5,682.21 L300.5,682.14 L302.5,682.08 L304.5,682.01 L306.5,681.95 L308.5,681.87 L310.5,681.8 L312.5,681.71 L314.5,681.63 L316.5,681.54 L318.5,681.45 L320.5,681.35 L322.5,681.26 L324.5,681.18 L326.5,681.09 L328.5,681.01 L330.5,680.93 L332.5,680.84 L334.5,680.76 L336.5,680.68 L338.5,680.59 L340.5,680.5 L342.5,680.41 L344.5,680.31 L346.5,680.2 L348.5,680.09 L350.5,679.98 L352.5,679.86 L354.5,679.74 L356.5,679.62 L358.5,679.5 L360.5,679.38 L362.5,679.27 L364.5,679.15 L366.5,679.02 L368.5,678.89 L370.5,678.77 L372.5,678.65 L374.5,678.53 L376.5,678.43 L378.5,678.34 L380.5,678.26 L382.5,678.18 L384.5,678.1 L386.5,678.02 L388.5,677.95 L390.5,677.89 L392.5,677.84 L394.5,677.8 L396.5,677.78 L398.5,677.77 L400.5,677.8 L402.5,677.85 L404.5,677.92 L406.5,678.01 L408.5,678.11 L410.5,678.23 L412.5,678.34 L414.5,678.46 L416.5,678.58 L418.5,678.71 L420.5,678.86 L422.5,679.02 L424.5,679.19 L426.5,679.38 L428.5,679.57 L430.5,679.76 L432.5,679.95 L434.5,680.14 L436.5,680.33 L438.5,680.52 L440.5,680.72 L442.5,680.92 L444.5,681.12 L446.5,681.33 L448.5,681.53 L450.5,681.74 L452.5,681.94 L454.5,682.14 L456.5,682.34 L458.5,682.54 L460.5,682.74 L462.5,682.94 L464.5,683.14 L466.5,683.34 L468.5,683.54 L470.5,683.74 L472.5,683.94 L474.5,684.15 L476.5,684.35 L478.5,684.56 L480.5,684.76 L482.5,684.96 L484.5,685.16 L486.5,685.36 L488.5,685.54 L490.5,685.73 L492.5,685.91 L494.5,686.09 L496.5,686.26 L498.5,686.44 L500.5,686.61 L502.5,686.77 L504.5,686.94 L506.5,687.1 L508.5,687.25 L510.5,687.41 L512.5,687.57 L514.5,687.72 L516.5,687.87 L518.5,688.02 L520.5,688.15 L522.5,688.28 L524.5,688.4 L526.5,688.51 L528.5,688.61 L530.5,688.71 L532.5,688.8 L534.5,688.88 L536.5,688.97 L538.5,689.04 L540.5,689.12 L542.5,689.19 L544.5,689.26 L546.5,689.32 L548.5,689.38 L550.5,689.44 L552.5,689.5 L554.5,689.55 L556.5,689.6 L558.5,689.66 L560.5,689.71 L562.5,689.77 L564.5,689.83 L566.5,689.88 L568.5,689.94 L570.5,689.99 L572.5,690.05 L574.5,690.1 L576.5,690.16 L578.5,690.22 L580.5,690.29 L582.5,690.35 L584.5,690.42 L586.5,690.5 L587.4,690.53" stroke="#2f80df" stroke-width="5.1"/>
</g>
<path d="M190.5,644.2h9.8M190.5,696.7h9.8M190.5,749.2h9.8" stroke="#000" stroke-width="2.8" fill="none"/>
<g clip-path="url(#cr30)" fill="none" stroke-linejoin="round">
<path d="M190.5,690.27 L192.5,690.27 L194.5,690.27 L196.5,690.27 L198.5,690.27 L200.5,690.27 L202.5,690.27 L204.5,690.27 L206.5,690.27 L208.5,690.27 L210.5,690.27 L212.5,690.27 L214.5,690.27 L216.5,690.27 L218.5,690.26 L220.5,690.24 L222.5,690.22 L224.5,690.19 L226.5,690.15 L228.5,690.12 L230.5,690.08 L232.5,690.04 L234.5,690 L236.5,689.96 L238.5,689.91 L240.5,689.86 L242.5,689.81 L244.5,689.75 L246.5,689.69 L248.5,689.62 L250.5,689.55 L252.5,689.47 L254.5,689.38 L256.5,689.28 L258.5,689.16 L260.5,689.04 L262.5,688.91 L264.5,688.78 L266.5,688.66 L268.5,688.54 L270.5,688.44 L272.5,688.34 L274.5,688.25 L276.5,688.16 L278.5,688.08 L280.5,688 L282.5,687.92 L284.5,687.83 L286.5,687.75 L288.5,687.67 L290.5,687.58 L292.5,687.49 L294.5,687.4 L296.5,687.31 L298.5,687.22 L300.5,687.13 L302.5,687.04 L304.5,686.97 L306.5,686.89 L308.5,686.83 L310.5,686.76 L312.5,686.7 L314.5,686.65 L316.5,686.59 L318.5,686.54 L320.5,686.49 L322.5,686.43 L324.5,686.38 L326.5,686.32 L328.5,686.26 L330.5,686.19 L332.5,686.13 L334.5,686.07 L336.5,686.01 L338.5,685.95 L340.5,685.9 L342.5,685.86 L344.5,685.82 L346.5,685.78 L348.5,685.74 L350.5,685.7 L352.5,685.67 L354.5,685.64 L356.5,685.61 L358.5,685.59 L360.5,685.58 L362.5,685.59 L364.5,685.6 L366.5,685.62 L368.5,685.65 L370.5,685.68 L372.5,685.72 L374.5,685.76 L376.5,685.79 L378.5,685.83 L380.5,685.86 L382.5,685.88 L384.5,685.91 L386.5,685.93 L388.5,685.95 L390.5,685.98 L392.5,686.01 L394.5,686.04 L396.5,686.08 L398.5,686.12 L400.5,686.19 L402.5,686.27 L404.5,686.38 L406.5,686.49 L408.5,686.62 L410.5,686.76 L412.5,686.9 L414.5,687.04 L416.5,687.18 L418.5,687.33 L420.5,687.49 L422.5,687.67 L424.5,687.85 L426.5,688.03 L428.5,688.21 L430.5,688.39 L432.5,688.57 L434.5,688.73 L436.5,688.88 L438.5,689.03 L440.5,689.18 L442.5,689.33 L444.5,689.47 L446.5,689.61 L448.5,689.75 L450.5,689.88 L452.5,690.01 L454.5,690.14 L456.5,690.26 L458.5,690.37 L460.5,690.48 L462.5,690.6 L464.5,690.71 L466.5,690.82 L468.5,690.93 L470.5,691.04 L472.5,691.16 L474.5,691.27 L476.5,691.39 L478.5,691.51 L480.5,691.63 L482.5,691.75 L484.5,691.86 L486.5,691.97 L488.5,692.07 L490.5,692.17 L492.5,692.26 L494.5,692.35 L496.5,692.43 L498.5,692.52 L500.5,692.6 L502.5,692.68 L504.5,692.76 L506.5,692.85 L508.5,692.93 L510.5,693.02 L512.5,693.11 L514.5,693.21 L516.5,693.3 L518.5,693.38 L520.5,693.47 L522.5,693.55 L524.5,693.63 L526.5,693.69 L528.5,693.76 L530.5,693.82 L532.5,693.88 L534.5,693.93 L536.5,693.98 L538.5,694.04 L540.5,694.09 L542.5,694.15 L544.5,694.2 L546.5,694.26 L548.5,694.32 L550.5,694.37 L552.5,694.43 L554.5,694.49 L556.5,694.55 L558.5,694.6 L560.5,694.66 L562.5,694.72 L564.5,694.77 L566.5,694.83 L568.5,694.88 L570.5,694.94 L572.5,694.99 L574.5,695.05 L576.5,695.11 L578.5,695.17 L580.5,695.23 L582.5,695.3 L584.5,695.37 L586.5,695.45 L587.4,695.48" stroke="#d0142c" stroke-width="5.1"/>
</g>
<path d="M587.4,658.2h-9.8M587.4,696.8h-9.8M587.4,735.5h-9.8" stroke="#000" stroke-width="2.8" fill="none"/>
<g clip-path="url(#cb30)"><path d="M197.4,677.52V690.52M215.62,677.26V690.26M233.84,677V690M252.06,676.48V689.48M270.28,676.22V689.22M288.5,675.96V688.96M306.72,675.44V688.44M324.94,674.66V687.66M343.16,673.88V686.88M361.38,672.83V685.83M379.6,671.79V684.79M397.82,671.27V684.27M416.04,672.05V685.05M434.26,673.61V686.61M452.48,675.44V688.44M470.7,677.26V690.26M488.92,679.08V692.08M507.14,680.65V693.65M525.36,681.95V694.95M543.58,682.73V695.73M561.8,683.25V696.25M580.02,683.77V696.77" stroke="#2f80df" stroke-width="2.8" fill="none"/></g>
<g clip-path="url(#cb30)"><path d="M197.4,683.77V696.77M215.62,683.77V696.77M233.84,683.51V696.51M252.06,682.99V695.99M270.28,681.95V694.95M288.5,681.17V694.17M306.72,680.39V693.39M324.94,679.86V692.86M343.16,679.34V692.34M361.38,679.08V692.08M379.6,679.34V692.34M397.82,679.6V692.6M416.04,680.65V693.65M434.26,682.21V695.21M452.48,683.51V696.51M470.7,684.55V697.55M488.92,685.59V698.59M507.14,686.38V699.38M525.36,687.16V700.16M543.58,687.68V700.68M561.8,688.2V701.2M580.02,688.72V701.72" stroke="#d0142c" stroke-width="2.8" fill="none"/></g>
<path d="M190.5,623.2V770.3M587.4,623.2V770.3" stroke="#000" stroke-width="2.7" fill="none" stroke-linejoin="miter" stroke-linecap="butt"/>
</g>
<g id="panel-k">
<rect x="675.3" y="623.4" width="215.7" height="145.2" fill="#c4d1cd"/>
<line x1="619.5" x2="1016.4" y1="696.8" y2="696.8" stroke="#6f7c7c" stroke-width="5.2"/>
<g clip-path="url(#cb31)" fill="none" stroke-linejoin="round">
<path d="M619.5,684.28 L621.5,684.28 L623.5,684.28 L625.5,684.28 L627.5,684.28 L629.5,684.32 L631.5,684.38 L633.5,684.47 L635.5,684.57 L637.5,684.68 L639.5,684.8 L641.5,684.91 L643.5,685.01 L645.5,685.1 L647.5,685.18 L649.5,685.27 L651.5,685.35 L653.5,685.43 L655.5,685.51 L657.5,685.6 L659.5,685.69 L661.5,685.78 L663.5,685.88 L665.5,685.98 L667.5,686.08 L669.5,686.19 L671.5,686.31 L673.5,686.42 L675.5,686.54 L677.5,686.66 L679.5,686.79 L681.5,686.91 L683.5,687.05 L685.5,687.18 L687.5,687.32 L689.5,687.47 L691.5,687.62 L693.5,687.76 L695.5,687.91 L697.5,688.06 L699.5,688.2 L701.5,688.35 L703.5,688.49 L705.5,688.63 L707.5,688.77 L709.5,688.92 L711.5,689.06 L713.5,689.2 L715.5,689.35 L717.5,689.49 L719.5,689.63 L721.5,689.77 L723.5,689.92 L725.5,690.06 L727.5,690.2 L729.5,690.35 L731.5,690.49 L733.5,690.63 L735.5,690.77 L737.5,690.92 L739.5,691.06 L741.5,691.2 L743.5,691.35 L745.5,691.49 L747.5,691.64 L749.5,691.78 L751.5,691.92 L753.5,692.06 L755.5,692.2 L757.5,692.34 L759.5,692.48 L761.5,692.61 L763.5,692.75 L765.5,692.89 L767.5,693.02 L769.5,693.15 L771.5,693.28 L773.5,693.41 L775.5,693.54 L777.5,693.67 L779.5,693.79 L781.5,693.92 L783.5,694.04 L785.5,694.16 L787.5,694.28 L789.5,694.4 L791.5,694.52 L793.5,694.63 L795.5,694.75 L797.5,694.86 L799.5,694.97 L801.5,695.09 L803.5,695.21 L805.5,695.34 L807.5,695.47 L809.5,695.61 L811.5,695.74 L813.5,695.86 L815.5,695.97 L817.5,696.07 L819.5,696.15 L821.5,696.21 L823.5,696.25 L825.5,696.26 L827.5,696.26 L829.5,696.26 L831.5,696.26 L833.5,696.26 L835.5,696.26 L837.5,696.26 L839.5,696.26 L841.5,696.26 L843.5,696.26 L845.5,696.26 L847.5,696.26 L849.5,696.26 L851.5,696.26 L853.5,696.24 L855.5,696.19 L857.5,696.1 L859.5,695.99 L861.5,695.86 L863.5,695.71 L865.5,695.54 L867.5,695.37 L869.5,695.18 L871.5,694.99 L873.5,694.8 L875.5,694.61 L877.5,694.43 L879.5,694.24 L881.5,694.02 L883.5,693.79 L885.5,693.53 L887.5,693.27 L889.5,693 L891.5,692.73 L893.5,692.46 L895.5,692.2 L897.5,691.95 L899.5,691.71 L901.5,691.5 L903.5,691.31 L905.5,691.13 L907.5,690.96 L909.5,690.8 L911.5,690.64 L913.5,690.5 L915.5,690.38 L917.5,690.28 L919.5,690.2 L921.5,690.13 L923.5,690.07 L925.5,690.02 L927.5,689.97 L929.5,689.92 L931.5,689.87 L933.5,689.82 L935.5,689.76 L937.5,689.71 L939.5,689.65 L941.5,689.59 L943.5,689.54 L945.5,689.48 L947.5,689.42 L949.5,689.36 L951.5,689.31 L953.5,689.25 L955.5,689.19 L957.5,689.13 L959.5,689.07 L961.5,689.01 L963.5,688.94 L965.5,688.88 L967.5,688.83 L969.5,688.77 L971.5,688.73 L973.5,688.69 L975.5,688.65 L977.5,688.62 L979.5,688.6 L981.5,688.57 L983.5,688.54 L985.5,688.52 L987.5,688.49 L989.5,688.46 L991.5,688.44 L993.5,688.4 L995.5,688.37 L997.5,688.33 L999.5,688.29 L1001.5,688.26 L1003.5,688.23 L1005.5,688.21 L1007.5,688.19 L1009.5,688.19 L1011.5,688.19 L1013.5,688.19 L1015.5,688.19 L1016.4,688.19" stroke="#2f80df" stroke-width="5.1"/>
</g>
<path d="M619.5,644.2h9.8M619.5,696.7h9.8M619.5,749.2h9.8" stroke="#000" stroke-width="2.8" fill="none"/>
<g clip-path="url(#cr31)" fill="none" stroke-linejoin="round">
<path d="M619.5,695.23 L621.5,695.26 L623.5,695.3 L625.5,695.33 L627.5,695.36 L629.5,695.39 L631.5,695.43 L633.5,695.45 L635.5,695.48 L637.5,695.51 L639.5,695.54 L641.5,695.56 L643.5,695.58 L645.5,695.61 L647.5,695.63 L649.5,695.65 L651.5,695.66 L653.5,695.68 L655.5,695.69 L657.5,695.71 L659.5,695.72 L661.5,695.72 L663.5,695.73 L665.5,695.74 L667.5,695.74 L669.5,695.74 L671.5,695.74 L673.5,695.74 L675.5,695.73 L677.5,695.73 L679.5,695.72 L681.5,695.71 L683.5,695.71 L685.5,695.7 L687.5,695.69 L689.5,695.68 L691.5,695.66 L693.5,695.65 L695.5,695.64 L697.5,695.63 L699.5,695.61 L701.5,695.6 L703.5,695.59 L705.5,695.57 L707.5,695.56 L709.5,695.55 L711.5,695.53 L713.5,695.52 L715.5,695.51 L717.5,695.5 L719.5,695.49 L721.5,695.48 L723.5,695.47 L725.5,695.46 L727.5,695.45 L729.5,695.44 L731.5,695.43 L733.5,695.43 L735.5,695.42 L737.5,695.41 L739.5,695.4 L741.5,695.39 L743.5,695.39 L745.5,695.38 L747.5,695.37 L749.5,695.36 L751.5,695.35 L753.5,695.34 L755.5,695.34 L757.5,695.32 L759.5,695.31 L761.5,695.3 L763.5,695.29 L765.5,695.28 L767.5,695.26 L769.5,695.25 L771.5,695.23 L773.5,695.22 L775.5,695.2 L777.5,695.17 L779.5,695.14 L781.5,695.11 L783.5,695.08 L785.5,695.04 L787.5,695 L789.5,694.95 L791.5,694.91 L793.5,694.86 L795.5,694.8 L797.5,694.75 L799.5,694.69 L801.5,694.62 L803.5,694.54 L805.5,694.44 L807.5,694.33 L809.5,694.22 L811.5,694.1 L813.5,693.97 L815.5,693.86 L817.5,693.74 L819.5,693.63 L821.5,693.54 L823.5,693.46 L825.5,693.39 L827.5,693.34 L829.5,693.29 L831.5,693.25 L833.5,693.21 L835.5,693.17 L837.5,693.14 L839.5,693.1 L841.5,693.07 L843.5,693.03 L845.5,693 L847.5,692.96 L849.5,692.92 L851.5,692.87 L853.5,692.82 L855.5,692.77 L857.5,692.72 L859.5,692.66 L861.5,692.6 L863.5,692.54 L865.5,692.48 L867.5,692.42 L869.5,692.35 L871.5,692.29 L873.5,692.22 L875.5,692.16 L877.5,692.09 L879.5,692.02 L881.5,691.93 L883.5,691.83 L885.5,691.73 L887.5,691.63 L889.5,691.54 L891.5,691.46 L893.5,691.39 L895.5,691.34 L897.5,691.31 L899.5,691.31 L901.5,691.32 L903.5,691.33 L905.5,691.35 L907.5,691.37 L909.5,691.4 L911.5,691.43 L913.5,691.47 L915.5,691.51 L917.5,691.55 L919.5,691.59 L921.5,691.64 L923.5,691.68 L925.5,691.73 L927.5,691.78 L929.5,691.83 L931.5,691.89 L933.5,691.97 L935.5,692.07 L937.5,692.18 L939.5,692.29 L941.5,692.41 L943.5,692.53 L945.5,692.66 L947.5,692.77 L949.5,692.88 L951.5,692.98 L953.5,693.07 L955.5,693.13 L957.5,693.19 L959.5,693.25 L961.5,693.31 L963.5,693.36 L965.5,693.41 L967.5,693.46 L969.5,693.51 L971.5,693.55 L973.5,693.59 L975.5,693.62 L977.5,693.64 L979.5,693.65 L981.5,693.66 L983.5,693.66 L985.5,693.65 L987.5,693.65 L989.5,693.64 L991.5,693.62 L993.5,693.61 L995.5,693.59 L997.5,693.57 L999.5,693.54 L1001.5,693.51 L1003.5,693.48 L1005.5,693.44 L1007.5,693.39 L1009.5,693.34 L1011.5,693.29 L1013.5,693.23 L1015.5,693.17 L1016.4,693.14" stroke="#d0142c" stroke-width="5.1"/>
</g>
<path d="M1016.4,658.2h-9.8M1016.4,696.8h-9.8M1016.4,735.5h-9.8" stroke="#000" stroke-width="2.8" fill="none"/>
<g clip-path="url(#cb31)"><path d="M626.4,677.78V690.78M644.62,678.56V691.56M662.84,679.34V692.34M681.06,680.39V693.39M699.28,681.69V694.69M717.5,682.99V695.99M735.72,684.29V697.29M753.94,685.59V698.59M917.92,683.77V696.77M936.14,683.25V696.25M954.36,682.73V695.73M972.58,682.21V695.21M990.8,681.95V694.95M1009.02,681.69V694.69" stroke="#2f80df" stroke-width="2.8" fill="none"/></g>
<path d="M619.5,623.2V770.3M1016.4,623.2V770.3" stroke="#000" stroke-width="2.7" fill="none" stroke-linejoin="miter" stroke-linecap="butt"/>
</g>
<g id="panel-l">
<rect x="1104" y="623.4" width="216" height="145.2" fill="#c4d1cd"/>
<line x1="1048.5" x2="1445.4" y1="696.4" y2="696.4" stroke="#6f7c7c" stroke-width="2.6"/>
<g clip-path="url(#cb32)" fill="none" stroke-linejoin="round">
<path d="M1048.5,681.55 L1050.5,681.1 L1052.5,680.69 L1054.5,680.36 L1056.5,680.12 L1058.5,679.93 L1060.5,679.75 L1062.5,679.59 L1064.5,679.45 L1066.5,679.32 L1068.5,679.2 L1070.5,679.1 L1072.5,679 L1074.5,678.9 L1076.5,678.8 L1078.5,678.7 L1080.5,678.61 L1082.5,678.52 L1084.5,678.44 L1086.5,678.37 L1088.5,678.33 L1090.5,678.3 L1092.5,678.3 L1094.5,678.38 L1096.5,678.56 L1098.5,678.8 L1100.5,679.11 L1102.5,679.46 L1104.5,679.85 L1106.5,680.24 L1108.5,680.64 L1110.5,681.04 L1112.5,681.55 L1114.5,682.13 L1116.5,682.7 L1118.5,683.16 L1120.5,683.49 L1122.5,683.76 L1124.5,683.99 L1126.5,684.22 L1128.5,684.47 L1130.5,684.73 L1132.5,684.98 L1134.5,685.24 L1136.5,685.5 L1138.5,685.75 L1140.5,686.01 L1142.5,686.27 L1144.5,686.53 L1146.5,686.79 L1148.5,687.09 L1150.5,687.42 L1152.5,687.74 L1154.5,688.03 L1156.5,688.23 L1158.5,688.33 L1160.5,688.39 L1162.5,688.43 L1164.5,688.45 L1166.5,688.38 L1168.5,688.19 L1170.5,687.92 L1172.5,687.6 L1174.5,687.22 L1176.5,686.62 L1178.5,685.85 L1180.5,685.02 L1182.5,684.23 L1184.5,683.51 L1186.5,682.78 L1188.5,682.04 L1190.5,681.3 L1192.5,680.56 L1194.5,679.84 L1196.5,679.13 L1198.5,678.44 L1200.5,677.78 L1202.5,677.16 L1204.5,676.58 L1206.5,676.02 L1208.5,675.48 L1210.5,674.95 L1212.5,674.41 L1214.5,673.86 L1216.5,673.27 L1218.5,672.65 L1220.5,671.99 L1222.5,671.31 L1224.5,670.61 L1226.5,669.89 L1228.5,669.13 L1230.5,668.34 L1232.5,667.51 L1234.5,666.63 L1236.5,665.71 L1238.5,664.67 L1240.5,663.33 L1242.5,661.92 L1244.5,660.7 L1246.5,659.91 L1248.5,659.38 L1250.5,658.94 L1252.5,658.58 L1254.5,658.25 L1256.5,657.93 L1258.5,657.6 L1260.5,657.26 L1262.5,656.94 L1264.5,656.64 L1266.5,656.38 L1268.5,656.16 L1270.5,656 L1272.5,655.91 L1274.5,655.9 L1276.5,655.9 L1278.5,655.9 L1280.5,655.9 L1282.5,655.9 L1284.5,655.9 L1286.5,655.9 L1288.5,655.9 L1290.5,655.9 L1292.5,655.91 L1294.5,656.07 L1296.5,656.4 L1298.5,656.86 L1300.5,657.43 L1302.5,658.07 L1304.5,658.76 L1306.5,659.46 L1308.5,660.14 L1310.5,660.77 L1312.5,661.4 L1314.5,662.08 L1316.5,662.8 L1318.5,663.53 L1320.5,664.28 L1322.5,665.04 L1324.5,665.78 L1326.5,666.51 L1328.5,667.21 L1330.5,667.89 L1332.5,668.57 L1334.5,669.25 L1336.5,669.92 L1338.5,670.58 L1340.5,671.23 L1342.5,671.85 L1344.5,672.45 L1346.5,673.01 L1348.5,673.54 L1350.5,674.06 L1352.5,674.56 L1354.5,675.04 L1356.5,675.51 L1358.5,675.96 L1360.5,676.39 L1362.5,676.81 L1364.5,677.2 L1366.5,677.58 L1368.5,677.94 L1370.5,678.28 L1372.5,678.62 L1374.5,678.94 L1376.5,679.25 L1378.5,679.56 L1380.5,679.87 L1382.5,680.17 L1384.5,680.48 L1386.5,680.79 L1388.5,681.1 L1390.5,681.4 L1392.5,681.7 L1394.5,681.99 L1396.5,682.26 L1398.5,682.52 L1400.5,682.77 L1402.5,682.99 L1404.5,683.21 L1406.5,683.41 L1408.5,683.61 L1410.5,683.79 L1412.5,683.97 L1414.5,684.15 L1416.5,684.31 L1418.5,684.47 L1420.5,684.62 L1422.5,684.77 L1424.5,684.91 L1426.5,685.04 L1428.5,685.17 L1430.5,685.3 L1432.5,685.42 L1434.5,685.53 L1436.5,685.65 L1438.5,685.76 L1440.5,685.86 L1442.5,685.96 L1444.5,686.06 L1445.4,686.1" stroke="#2f80df" stroke-width="5.1"/>
</g>
<path d="M1048.5,644.2h9.8M1048.5,696.7h9.8M1048.5,749.2h9.8" stroke="#000" stroke-width="2.8" fill="none"/>
<g clip-path="url(#cr32)" fill="none" stroke-linejoin="round">
<path d="M1048.5,684.41 L1050.5,684.41 L1052.5,684.41 L1054.5,684.41 L1056.5,684.43 L1058.5,684.51 L1060.5,684.66 L1062.5,684.85 L1064.5,685.06 L1066.5,685.27 L1068.5,685.46 L1070.5,685.61 L1072.5,685.7 L1074.5,685.71 L1076.5,685.65 L1078.5,685.55 L1080.5,685.4 L1082.5,685.2 L1084.5,684.97 L1086.5,684.71 L1088.5,684.42 L1090.5,684.11 L1092.5,683.76 L1094.5,683.14 L1096.5,682.32 L1098.5,681.45 L1100.5,680.67 L1102.5,680.13 L1104.5,679.75 L1106.5,679.43 L1108.5,679.13 L1110.5,678.84 L1112.5,678.56 L1114.5,678.3 L1116.5,678.05 L1118.5,677.81 L1120.5,677.57 L1122.5,677.32 L1124.5,677.07 L1126.5,676.81 L1128.5,676.53 L1130.5,676.26 L1132.5,675.99 L1134.5,675.72 L1136.5,675.44 L1138.5,675.14 L1140.5,674.82 L1142.5,674.48 L1144.5,674.1 L1146.5,673.68 L1148.5,673.15 L1150.5,672.49 L1152.5,671.73 L1154.5,670.92 L1156.5,670.08 L1158.5,669.26 L1160.5,668.48 L1162.5,667.79 L1164.5,667.22 L1166.5,666.73 L1168.5,666.28 L1170.5,665.84 L1172.5,665.44 L1174.5,665.05 L1176.5,664.69 L1178.5,664.36 L1180.5,664.04 L1182.5,663.74 L1184.5,663.45 L1186.5,663.16 L1188.5,662.88 L1190.5,662.61 L1192.5,662.36 L1194.5,662.13 L1196.5,661.94 L1198.5,661.77 L1200.5,661.65 L1202.5,661.56 L1204.5,661.49 L1206.5,661.43 L1208.5,661.38 L1210.5,661.33 L1212.5,661.29 L1214.5,661.24 L1216.5,661.19 L1218.5,661.13 L1220.5,661.05 L1222.5,660.94 L1224.5,660.83 L1226.5,660.74 L1228.5,660.71 L1230.5,660.84 L1232.5,661.12 L1234.5,661.48 L1236.5,661.86 L1238.5,662.21 L1240.5,662.59 L1242.5,662.99 L1244.5,663.41 L1246.5,663.8 L1248.5,664.16 L1250.5,664.51 L1252.5,664.88 L1254.5,665.31 L1256.5,665.86 L1258.5,666.57 L1260.5,667.43 L1262.5,668.39 L1264.5,669.41 L1266.5,670.46 L1268.5,671.48 L1270.5,672.45 L1272.5,673.31 L1274.5,674.05 L1276.5,674.74 L1278.5,675.4 L1280.5,676.02 L1282.5,676.63 L1284.5,677.21 L1286.5,677.77 L1288.5,678.32 L1290.5,678.85 L1292.5,679.38 L1294.5,679.89 L1296.5,680.39 L1298.5,680.88 L1300.5,681.36 L1302.5,681.82 L1304.5,682.27 L1306.5,682.7 L1308.5,683.13 L1310.5,683.54 L1312.5,683.94 L1314.5,684.34 L1316.5,684.73 L1318.5,685.11 L1320.5,685.48 L1322.5,685.83 L1324.5,686.16 L1326.5,686.47 L1328.5,686.75 L1330.5,687.01 L1332.5,687.24 L1334.5,687.46 L1336.5,687.67 L1338.5,687.87 L1340.5,688.07 L1342.5,688.27 L1344.5,688.47 L1346.5,688.68 L1348.5,688.9 L1350.5,689.12 L1352.5,689.34 L1354.5,689.56 L1356.5,689.78 L1358.5,690 L1360.5,690.22 L1362.5,690.43 L1364.5,690.64 L1366.5,690.84 L1368.5,691.04 L1370.5,691.24 L1372.5,691.43 L1374.5,691.62 L1376.5,691.81 L1378.5,691.99 L1380.5,692.16 L1382.5,692.32 L1384.5,692.47 L1386.5,692.61 L1388.5,692.74 L1390.5,692.87 L1392.5,693 L1394.5,693.12 L1396.5,693.24 L1398.5,693.36 L1400.5,693.48 L1402.5,693.6 L1404.5,693.73 L1406.5,693.85 L1408.5,693.97 L1410.5,694.1 L1412.5,694.21 L1414.5,694.32 L1416.5,694.43 L1418.5,694.53 L1420.5,694.61 L1422.5,694.7 L1424.5,694.77 L1426.5,694.84 L1428.5,694.91 L1430.5,694.98 L1432.5,695.05 L1434.5,695.11 L1436.5,695.18 L1438.5,695.25 L1440.5,695.31 L1442.5,695.38 L1444.5,695.45 L1445.4,695.48" stroke="#d0142c" stroke-width="5.1"/>
</g>
<path d="M1445.4,658.2h-9.8M1445.4,696.8h-9.8M1445.4,735.5h-9.8" stroke="#000" stroke-width="2.8" fill="none"/>
<g clip-path="url(#cb32)"><path d="M1055.4,673.74V686.74M1073.62,672.44V685.44M1091.84,671.79V684.79M1110.06,674.45V687.45M1201.16,671.07V684.07M1219.38,665.87V678.87M1237.6,658.67V671.67M1255.82,651.54V664.54M1274.04,649.4V662.4M1292.26,649.4V662.4M1310.48,654.26V667.26M1328.7,660.77V673.77M1346.92,666.62V679.62M1365.14,670.82V683.82M1383.36,673.8V686.8M1401.58,676.39V689.39M1419.8,678.07V691.07M1438.02,679.23V692.23" stroke="#2f80df" stroke-width="2.8" fill="none"/></g>
<g clip-path="url(#cb32)"><path d="M1055.4,677.91V690.91M1073.62,679.21V692.21M1091.84,677.39V690.39M1110.06,672.4V685.4M1128.28,670.06V683.06M1146.5,667.18V680.18M1164.72,660.67V673.67M1182.94,657.18V670.18M1201.16,655.12V668.12M1219.38,654.6V667.6M1237.6,655.55V668.55M1255.82,659.15V672.15M1274.04,667.39V680.39M1292.26,672.81V685.81M1310.48,677.03V690.03M1328.7,680.27V693.27M1346.92,682.22V695.22M1365.14,684.2V697.2" stroke="#d0142c" stroke-width="2.8" fill="none"/></g>
<path d="M1048.5,623.2V770.3M1445.4,623.2V770.3" stroke="#000" stroke-width="2.7" fill="none" stroke-linejoin="miter" stroke-linecap="butt"/>
</g>
<g id="panel-m">
<rect x="246.6" y="800.6" width="215.4" height="145.2" fill="#c4d1cd"/>
<line x1="190.5" x2="587.4" y1="874" y2="874" stroke="#6f7c7c" stroke-width="5.2"/>
<g clip-path="url(#cb40)" fill="none" stroke-linejoin="round">
<path d="M190.5,868.31 L192.5,868.42 L194.5,868.51 L196.5,868.57 L198.5,868.57 L200.5,868.56 L202.5,868.55 L204.5,868.53 L206.5,868.5 L208.5,868.46 L210.5,868.43 L212.5,868.38 L214.5,868.34 L216.5,868.28 L218.5,868.17 L220.5,868.02 L222.5,867.86 L224.5,867.73 L226.5,867.67 L228.5,867.79 L230.5,868.23 L232.5,868.74 L234.5,869.04 L236.5,869.23 L238.5,869.41 L240.5,869.56 L242.5,869.69 L244.5,869.82 L246.5,869.93 L248.5,870.05 L250.5,870.16 L252.5,870.29 L254.5,870.41 L256.5,870.53 L258.5,870.65 L260.5,870.76 L262.5,870.88 L264.5,870.99 L266.5,871.1 L268.5,871.2 L270.5,871.31 L272.5,871.42 L274.5,871.53 L276.5,871.64 L278.5,871.74 L280.5,871.85 L282.5,871.95 L284.5,872.04 L286.5,872.14 L288.5,872.22 L290.5,872.31 L292.5,872.41 L294.5,872.5 L296.5,872.6 L298.5,872.68 L300.5,872.76 L302.5,872.82 L304.5,872.85 L306.5,872.87 L308.5,872.87 L310.5,872.87 L312.5,872.87 L314.5,872.87 L316.5,872.87 L318.5,872.87 L320.5,872.87 L322.5,872.87 L324.5,872.87 L326.5,872.87 L328.5,872.85 L330.5,872.82 L332.5,872.79 L334.5,872.75 L336.5,872.71 L338.5,872.68 L340.5,872.64 L342.5,872.62 L344.5,872.6 L346.5,872.58 L348.5,872.57 L350.5,872.56 L352.5,872.55 L354.5,872.54 L356.5,872.52 L358.5,872.51 L360.5,872.49 L362.5,872.47 L364.5,872.43 L366.5,872.39 L368.5,872.34 L370.5,872.28 L372.5,872.21 L374.5,872.15 L376.5,872.07 L378.5,872 L380.5,871.93 L382.5,871.85 L384.5,871.76 L386.5,871.65 L388.5,871.54 L390.5,871.39 L392.5,871.21 L394.5,871.01 L396.5,870.81 L398.5,870.62 L400.5,870.44 L402.5,870.24 L404.5,870.05 L406.5,869.85 L408.5,869.65 L410.5,869.46 L412.5,869.28 L414.5,869.1 L416.5,868.93 L418.5,868.77 L420.5,868.61 L422.5,868.44 L424.5,868.29 L426.5,868.14 L428.5,868 L430.5,867.87 L432.5,867.75 L434.5,867.65 L436.5,867.55 L438.5,867.45 L440.5,867.35 L442.5,867.26 L444.5,867.18 L446.5,867.11 L448.5,867.06 L450.5,867.02 L452.5,867.01 L454.5,867.02 L456.5,867.06 L458.5,867.11 L460.5,867.18 L462.5,867.27 L464.5,867.36 L466.5,867.46 L468.5,867.56 L470.5,867.65 L472.5,867.76 L474.5,867.88 L476.5,868.03 L478.5,868.18 L480.5,868.34 L482.5,868.5 L484.5,868.65 L486.5,868.8 L488.5,868.93 L490.5,869.05 L492.5,869.17 L494.5,869.28 L496.5,869.4 L498.5,869.5 L500.5,869.6 L502.5,869.7 L504.5,869.78 L506.5,869.85 L508.5,869.91 L510.5,869.97 L512.5,870.03 L514.5,870.09 L516.5,870.14 L518.5,870.19 L520.5,870.22 L522.5,870.25 L524.5,870.26 L526.5,870.26 L528.5,870.25 L530.5,870.23 L532.5,870.21 L534.5,870.17 L536.5,870.14 L538.5,870.1 L540.5,870.06 L542.5,870.02 L544.5,869.99 L546.5,869.95 L548.5,869.9 L550.5,869.86 L552.5,869.81 L554.5,869.76 L556.5,869.72 L558.5,869.68 L560.5,869.64 L562.5,869.6 L564.5,869.56 L566.5,869.53 L568.5,869.49 L570.5,869.45 L572.5,869.42 L574.5,869.39 L576.5,869.37 L578.5,869.36 L580.5,869.35 L582.5,869.35 L584.5,869.35 L586.5,869.35 L587.4,869.35" stroke="#2f80df" stroke-width="5.1"/>
</g>
<path d="M190.5,821.4h9.8M190.5,873.9h9.8M190.5,926.4h9.8" stroke="#000" stroke-width="2.8" fill="none"/>
<g clip-path="url(#cr40)" fill="none" stroke-linejoin="round">
<path d="M190.5,863.76 L192.5,864.11 L194.5,864.44 L196.5,864.64 L198.5,864.67 L200.5,864.67 L202.5,864.67 L204.5,864.67 L206.5,864.67 L208.5,864.67 L210.5,864.67 L212.5,864.67 L214.5,864.67 L216.5,864.64 L218.5,864.42 L220.5,864.03 L222.5,863.56 L224.5,863.09 L226.5,862.59 L228.5,862 L230.5,861.35 L232.5,860.68 L234.5,860.01 L236.5,859.23 L238.5,858.35 L240.5,857.41 L242.5,856.47 L244.5,855.59 L246.5,854.82 L248.5,854.22 L250.5,853.84 L252.5,853.73 L254.5,853.85 L256.5,854.06 L258.5,854.27 L260.5,854.47 L262.5,854.69 L264.5,854.91 L266.5,855.11 L268.5,855.24 L270.5,855.29 L272.5,855.28 L274.5,855.24 L276.5,855.19 L278.5,855.12 L280.5,855.04 L282.5,854.95 L284.5,854.85 L286.5,854.74 L288.5,854.63 L290.5,854.5 L292.5,854.32 L294.5,854.11 L296.5,853.88 L298.5,853.63 L300.5,853.38 L302.5,853.14 L304.5,852.91 L306.5,852.7 L308.5,852.51 L310.5,852.33 L312.5,852.16 L314.5,851.99 L316.5,851.82 L318.5,851.65 L320.5,851.49 L322.5,851.33 L324.5,851.16 L326.5,851.01 L328.5,850.86 L330.5,850.72 L332.5,850.59 L334.5,850.45 L336.5,850.3 L338.5,850.15 L340.5,849.97 L342.5,849.77 L344.5,849.53 L346.5,849.23 L348.5,848.88 L350.5,848.49 L352.5,848.06 L354.5,847.63 L356.5,847.19 L358.5,846.76 L360.5,846.36 L362.5,845.97 L364.5,845.54 L366.5,845.07 L368.5,844.6 L370.5,844.14 L372.5,843.72 L374.5,843.36 L376.5,843.1 L378.5,842.95 L380.5,842.92 L382.5,842.92 L384.5,842.92 L386.5,842.92 L388.5,842.92 L390.5,842.95 L392.5,843.01 L394.5,843.1 L396.5,843.21 L398.5,843.34 L400.5,843.57 L402.5,843.94 L404.5,844.42 L406.5,844.99 L408.5,845.62 L410.5,846.28 L412.5,846.96 L414.5,847.62 L416.5,848.24 L418.5,848.89 L420.5,849.58 L422.5,850.3 L424.5,851.03 L426.5,851.77 L428.5,852.5 L430.5,853.2 L432.5,853.86 L434.5,854.46 L436.5,855.02 L438.5,855.57 L440.5,856.09 L442.5,856.6 L444.5,857.09 L446.5,857.56 L448.5,858.03 L450.5,858.49 L452.5,858.95 L454.5,859.4 L456.5,859.86 L458.5,860.31 L460.5,860.75 L462.5,861.18 L464.5,861.59 L466.5,861.98 L468.5,862.35 L470.5,862.68 L472.5,862.99 L474.5,863.29 L476.5,863.56 L478.5,863.83 L480.5,864.08 L482.5,864.32 L484.5,864.56 L486.5,864.78 L488.5,865 L490.5,865.21 L492.5,865.42 L494.5,865.62 L496.5,865.81 L498.5,866 L500.5,866.18 L502.5,866.35 L504.5,866.52 L506.5,866.69 L508.5,866.85 L510.5,867.01 L512.5,867.16 L514.5,867.31 L516.5,867.46 L518.5,867.6 L520.5,867.74 L522.5,867.87 L524.5,867.99 L526.5,868.11 L528.5,868.23 L530.5,868.34 L532.5,868.44 L534.5,868.55 L536.5,868.65 L538.5,868.74 L540.5,868.83 L542.5,868.92 L544.5,869.01 L546.5,869.09 L548.5,869.17 L550.5,869.25 L552.5,869.32 L554.5,869.39 L556.5,869.46 L558.5,869.52 L560.5,869.58 L562.5,869.64 L564.5,869.69 L566.5,869.75 L568.5,869.81 L570.5,869.86 L572.5,869.91 L574.5,869.95 L576.5,869.98 L578.5,870 L580.5,870.01 L582.5,870.01 L584.5,870.01 L586.5,870.01 L587.4,870.01" stroke="#d0142c" stroke-width="5.1"/>
</g>
<path d="M587.4,835.4h-9.8M587.4,874h-9.8M587.4,912.7h-9.8" stroke="#000" stroke-width="2.8" fill="none"/>
<g clip-path="url(#cb40)"><path d="M197.4,862.07V875.07M215.62,861.81V874.81M233.84,862.46V875.46M252.06,863.76V876.76M270.28,864.8V877.8M397.82,864.19V877.19M416.04,862.47V875.47M434.26,861.16V874.16M452.48,860.51V873.51M470.7,861.16V874.16M488.92,862.46V875.46M507.14,863.37V876.37M525.36,863.77V876.77M543.58,863.5V876.5M561.8,863.11V876.11M580.02,862.85V875.85" stroke="#2f80df" stroke-width="2.8" fill="none"/></g>
<g clip-path="url(#cb40)"><path d="M197.4,858.17V871.17M215.62,858.17V871.17M233.84,853.74V866.74M252.06,847.23V860.23M270.28,848.79V861.79M288.5,848.13V861.13M306.72,846.18V859.18M324.94,844.63V857.63M343.16,843.2V856.2M361.38,839.69V852.69M379.6,836.42V849.42M397.82,836.79V849.79M416.04,841.6V854.6M434.26,847.89V860.89M452.48,852.44V865.44M470.7,856.22V869.22M488.92,858.54V871.54M507.14,860.24V873.24M525.36,861.54V874.54M543.58,862.47V875.47M561.8,863.12V876.12M580.02,863.51V876.51" stroke="#d0142c" stroke-width="2.8" fill="none"/></g>
<path d="M190.5,800.4V947.5M587.4,800.4V947.5" stroke="#000" stroke-width="2.7" fill="none" stroke-linejoin="miter" stroke-linecap="butt"/>
</g>
<g id="panel-n">
<rect x="675.3" y="800.6" width="215.7" height="145.2" fill="#c4d1cd"/>
<line x1="619.5" x2="1016.4" y1="874" y2="874" stroke="#6f7c7c" stroke-width="5.2"/>
<g clip-path="url(#cb41)" fill="none" stroke-linejoin="round">
<path d="M619.5,863.76 L621.5,863.84 L623.5,863.92 L625.5,863.99 L627.5,864.05 L629.5,864.1 L631.5,864.14 L633.5,864.19 L635.5,864.23 L637.5,864.27 L639.5,864.3 L641.5,864.34 L643.5,864.38 L645.5,864.43 L647.5,864.46 L649.5,864.5 L651.5,864.54 L653.5,864.58 L655.5,864.62 L657.5,864.66 L659.5,864.71 L661.5,864.76 L663.5,864.82 L665.5,864.89 L667.5,864.98 L669.5,865.08 L671.5,865.18 L673.5,865.29 L675.5,865.41 L677.5,865.52 L679.5,865.64 L681.5,865.75 L683.5,865.85 L685.5,865.96 L687.5,866.08 L689.5,866.19 L691.5,866.3 L693.5,866.42 L695.5,866.54 L697.5,866.66 L699.5,866.78 L701.5,866.9 L703.5,867.02 L705.5,867.13 L707.5,867.26 L709.5,867.38 L711.5,867.51 L713.5,867.64 L715.5,867.79 L717.5,867.94 L719.5,868.11 L721.5,868.29 L723.5,868.49 L725.5,868.7 L727.5,868.91 L729.5,869.13 L731.5,869.34 L733.5,869.55 L735.5,869.75 L737.5,869.95 L739.5,870.15 L741.5,870.36 L743.5,870.56 L745.5,870.77 L747.5,870.97 L749.5,871.16 L751.5,871.36 L753.5,871.55 L755.5,871.73 L757.5,871.92 L759.5,872.1 L761.5,872.28 L763.5,872.46 L765.5,872.63 L767.5,872.8 L769.5,872.97 L771.5,873.13 L773.5,873.28 L775.5,873.43 L777.5,873.57 L779.5,873.7 L781.5,873.84 L783.5,873.97 L785.5,874.09 L787.5,874.22 L789.5,874.35 L791.5,874.48 L793.5,874.61 L795.5,874.74 L797.5,874.86 L799.5,874.99 L801.5,875.11 L803.5,875.24 L805.5,875.36 L807.5,875.49 L809.5,875.62 L811.5,875.75 L813.5,875.88 L815.5,876.02 L817.5,876.16 L819.5,876.34 L821.5,876.55 L823.5,876.76 L825.5,876.95 L827.5,877.09 L829.5,877.16 L831.5,877.17 L833.5,877.17 L835.5,877.17 L837.5,877.17 L839.5,877.17 L841.5,877.17 L843.5,877.17 L845.5,877.17 L847.5,877.17 L849.5,877.17 L851.5,877.16 L853.5,877.12 L855.5,877.07 L857.5,877.01 L859.5,876.93 L861.5,876.85 L863.5,876.76 L865.5,876.67 L867.5,876.58 L869.5,876.5 L871.5,876.42 L873.5,876.34 L875.5,876.25 L877.5,876.15 L879.5,876.04 L881.5,875.91 L883.5,875.75 L885.5,875.52 L887.5,875.25 L889.5,874.95 L891.5,874.65 L893.5,874.37 L895.5,874.13 L897.5,873.91 L899.5,873.69 L901.5,873.48 L903.5,873.29 L905.5,873.1 L907.5,872.92 L909.5,872.76 L911.5,872.59 L913.5,872.44 L915.5,872.29 L917.5,872.15 L919.5,872.04 L921.5,871.94 L923.5,871.87 L925.5,871.81 L927.5,871.75 L929.5,871.7 L931.5,871.65 L933.5,871.59 L935.5,871.53 L937.5,871.46 L939.5,871.39 L941.5,871.32 L943.5,871.24 L945.5,871.17 L947.5,871.1 L949.5,871.04 L951.5,870.98 L953.5,870.92 L955.5,870.87 L957.5,870.82 L959.5,870.76 L961.5,870.71 L963.5,870.66 L965.5,870.62 L967.5,870.58 L969.5,870.55 L971.5,870.53 L973.5,870.53 L975.5,870.53 L977.5,870.54 L979.5,870.56 L981.5,870.58 L983.5,870.6 L985.5,870.62 L987.5,870.63 L989.5,870.65 L991.5,870.65 L993.5,870.66 L995.5,870.66 L997.5,870.66 L999.5,870.66 L1001.5,870.66 L1003.5,870.66 L1005.5,870.66 L1007.5,870.66 L1009.5,870.66 L1011.5,870.66 L1013.5,870.66 L1015.5,870.66 L1016.4,870.66" stroke="#2f80df" stroke-width="5.1"/>
</g>
<path d="M619.5,821.4h9.8M619.5,873.9h9.8M619.5,926.4h9.8" stroke="#000" stroke-width="2.8" fill="none"/>
<g clip-path="url(#cr41)" fill="none" stroke-linejoin="round">
<path d="M619.5,870.01 L621.5,870.09 L623.5,870.18 L625.5,870.24 L627.5,870.29 L629.5,870.33 L631.5,870.36 L633.5,870.38 L635.5,870.41 L637.5,870.43 L639.5,870.45 L641.5,870.48 L643.5,870.51 L645.5,870.54 L647.5,870.59 L649.5,870.64 L651.5,870.7 L653.5,870.75 L655.5,870.81 L657.5,870.85 L659.5,870.89 L661.5,870.91 L663.5,870.91 L665.5,870.88 L667.5,870.81 L669.5,870.71 L671.5,870.61 L673.5,870.5 L675.5,870.4 L677.5,870.32 L679.5,870.28 L681.5,870.27 L683.5,870.27 L685.5,870.27 L687.5,870.27 L689.5,870.27 L691.5,870.27 L693.5,870.27 L695.5,870.27 L697.5,870.27 L699.5,870.27 L701.5,870.29 L703.5,870.32 L705.5,870.38 L707.5,870.44 L709.5,870.5 L711.5,870.56 L713.5,870.61 L715.5,870.65 L717.5,870.66 L719.5,870.64 L721.5,870.61 L723.5,870.56 L725.5,870.5 L727.5,870.44 L729.5,870.37 L731.5,870.32 L733.5,870.28 L735.5,870.25 L737.5,870.22 L739.5,870.2 L741.5,870.18 L743.5,870.16 L745.5,870.14 L747.5,870.13 L749.5,870.11 L751.5,870.09 L753.5,870.07 L755.5,870.06 L757.5,870.04 L759.5,870.01 L761.5,869.99 L763.5,869.97 L765.5,869.94 L767.5,869.92 L769.5,869.89 L771.5,869.87 L773.5,869.84 L775.5,869.81 L777.5,869.78 L779.5,869.75 L781.5,869.71 L783.5,869.67 L785.5,869.63 L787.5,869.59 L789.5,869.54 L791.5,869.48 L793.5,869.42 L795.5,869.35 L797.5,869.27 L799.5,869.18 L801.5,869.07 L803.5,868.94 L805.5,868.73 L807.5,868.41 L809.5,868.01 L811.5,867.57 L813.5,867.11 L815.5,866.67 L817.5,866.26 L819.5,865.83 L821.5,865.38 L823.5,864.95 L825.5,864.59 L827.5,864.34 L829.5,864.12 L831.5,863.92 L833.5,863.72 L835.5,863.55 L837.5,863.39 L839.5,863.27 L841.5,863.17 L843.5,863.12 L845.5,863.1 L847.5,863.13 L849.5,863.2 L851.5,863.29 L853.5,863.39 L855.5,863.5 L857.5,863.6 L859.5,863.68 L861.5,863.74 L863.5,863.75 L865.5,863.53 L867.5,863.03 L869.5,862.46 L871.5,861.98 L873.5,861.78 L875.5,861.68 L877.5,861.61 L879.5,861.56 L881.5,861.54 L883.5,861.57 L885.5,861.66 L887.5,861.81 L889.5,861.99 L891.5,862.19 L893.5,862.42 L895.5,862.64 L897.5,862.87 L899.5,863.07 L901.5,863.27 L903.5,863.47 L905.5,863.67 L907.5,863.88 L909.5,864.1 L911.5,864.32 L913.5,864.54 L915.5,864.77 L917.5,865.03 L919.5,865.33 L921.5,865.65 L923.5,865.97 L925.5,866.27 L927.5,866.54 L929.5,866.77 L931.5,866.93 L933.5,867 L935.5,867.01 L937.5,866.98 L939.5,866.94 L941.5,866.89 L943.5,866.84 L945.5,866.78 L947.5,866.73 L949.5,866.68 L951.5,866.64 L953.5,866.62 L955.5,866.62 L957.5,866.62 L959.5,866.62 L961.5,866.62 L963.5,866.62 L965.5,866.62 L967.5,866.62 L969.5,866.62 L971.5,866.62 L973.5,866.62 L975.5,866.64 L977.5,866.67 L979.5,866.71 L981.5,866.77 L983.5,866.82 L985.5,866.88 L987.5,866.93 L989.5,866.98 L991.5,867.02 L993.5,867.06 L995.5,867.09 L997.5,867.13 L999.5,867.17 L1001.5,867.2 L1003.5,867.23 L1005.5,867.25 L1007.5,867.27 L1009.5,867.27 L1011.5,867.27 L1013.5,867.27 L1015.5,867.27 L1016.4,867.27" stroke="#d0142c" stroke-width="5.1"/>
</g>
<path d="M1016.4,835.4h-9.8M1016.4,874h-9.8M1016.4,912.7h-9.8" stroke="#000" stroke-width="2.8" fill="none"/>
<g clip-path="url(#cb41)"><path d="M626.4,857.52V870.52M644.62,857.91V870.91M662.84,858.3V871.3M681.06,859.22V872.22M699.28,860.27V873.27M717.5,861.44V874.44M1009.02,864.16V877.16" stroke="#2f80df" stroke-width="2.8" fill="none"/></g>
<g clip-path="url(#cb41)"><path d="M626.4,863.77V876.77M681.06,863.77V876.77M826.82,857.91V870.91M845.04,856.6V869.6M863.26,857.26V870.26M881.48,855.04V868.04M899.7,856.59V869.59M954.36,860.12V873.12M972.58,860.12V873.12M990.8,860.51V873.51M1009.02,860.77V873.77" stroke="#d0142c" stroke-width="2.8" fill="none"/></g>
<path d="M619.5,800.4V947.5M1016.4,800.4V947.5" stroke="#000" stroke-width="2.7" fill="none" stroke-linejoin="miter" stroke-linecap="butt"/>
</g>
<g id="panel-o">
<rect x="1104" y="800.6" width="216" height="145.2" fill="#c4d1cd"/>
<line x1="1048.5" x2="1445.4" y1="873.6" y2="873.6" stroke="#6f7c7c" stroke-width="2.6"/>
<g clip-path="url(#cb42)" fill="none" stroke-linejoin="round">
<path d="M1048.5,874.82 L1050.5,874.05 L1052.5,873.28 L1054.5,872.54 L1056.5,871.81 L1058.5,871.1 L1060.5,870.35 L1062.5,869.51 L1064.5,868.78 L1066.5,868.34 L1068.5,868.21 L1070.5,868.11 L1072.5,868.06 L1074.5,868.06 L1076.5,868.17 L1078.5,868.37 L1080.5,868.64 L1082.5,868.95 L1084.5,869.27 L1086.5,869.6 L1088.5,870 L1090.5,870.51 L1092.5,871.16 L1094.5,872.17 L1096.5,873.48 L1098.5,874.94 L1100.5,876.41 L1102.5,877.76 L1104.5,879.06 L1106.5,880.37 L1108.5,881.66 L1110.5,882.92 L1112.5,884.18 L1114.5,885.56 L1116.5,886.87 L1118.5,887.93 L1120.5,888.55 L1122.5,888.93 L1124.5,889.23 L1126.5,889.44 L1128.5,889.56 L1130.5,889.62 L1132.5,889.66 L1134.5,889.7 L1136.5,889.77 L1138.5,890.01 L1140.5,890.73 L1142.5,891.75 L1144.5,892.85 L1146.5,893.81 L1148.5,894.72 L1150.5,895.67 L1152.5,896.57 L1154.5,897.34 L1156.5,897.94 L1158.5,898.53 L1160.5,899.05 L1162.5,899.42 L1164.5,899.56 L1166.5,899.56 L1168.5,899.56 L1170.5,899.56 L1172.5,899.56 L1174.5,899.53 L1176.5,899.23 L1178.5,898.74 L1180.5,898.17 L1182.5,897.66 L1184.5,897.24 L1186.5,896.84 L1188.5,896.46 L1190.5,896.07 L1192.5,895.68 L1194.5,895.27 L1196.5,894.83 L1198.5,894.35 L1200.5,893.83 L1202.5,893.19 L1204.5,892.38 L1206.5,891.47 L1208.5,890.57 L1210.5,889.78 L1212.5,889.18 L1214.5,888.77 L1216.5,888.43 L1218.5,888.17 L1220.5,888.01 L1222.5,887.91 L1224.5,887.83 L1226.5,887.73 L1228.5,887.56 L1230.5,887.08 L1232.5,886.25 L1234.5,885.27 L1236.5,884.32 L1238.5,883.52 L1240.5,882.77 L1242.5,882.02 L1244.5,881.27 L1246.5,880.49 L1248.5,879.74 L1250.5,878.98 L1252.5,878.1 L1254.5,877.01 L1256.5,875.43 L1258.5,873.54 L1260.5,871.61 L1262.5,869.92 L1264.5,868.59 L1266.5,867.42 L1268.5,866.33 L1270.5,865.26 L1272.5,864.14 L1274.5,862.96 L1276.5,861.75 L1278.5,860.57 L1280.5,859.48 L1282.5,858.53 L1284.5,857.64 L1286.5,856.78 L1288.5,856 L1290.5,855.39 L1292.5,855.01 L1294.5,854.77 L1296.5,854.54 L1298.5,854.34 L1300.5,854.17 L1302.5,854.02 L1304.5,853.9 L1306.5,853.81 L1308.5,853.75 L1310.5,853.73 L1312.5,853.8 L1314.5,854.01 L1316.5,854.29 L1318.5,854.58 L1320.5,854.9 L1322.5,855.32 L1324.5,855.78 L1326.5,856.21 L1328.5,856.55 L1330.5,856.79 L1332.5,856.99 L1334.5,857.17 L1336.5,857.33 L1338.5,857.48 L1340.5,857.62 L1342.5,857.77 L1344.5,857.93 L1346.5,858.1 L1348.5,858.3 L1350.5,858.52 L1352.5,858.75 L1354.5,858.98 L1356.5,859.22 L1358.5,859.46 L1360.5,859.7 L1362.5,859.93 L1364.5,860.16 L1366.5,860.37 L1368.5,860.59 L1370.5,860.81 L1372.5,861.03 L1374.5,861.24 L1376.5,861.45 L1378.5,861.64 L1380.5,861.82 L1382.5,861.99 L1384.5,862.13 L1386.5,862.27 L1388.5,862.39 L1390.5,862.51 L1392.5,862.62 L1394.5,862.73 L1396.5,862.83 L1398.5,862.94 L1400.5,863.04 L1402.5,863.14 L1404.5,863.25 L1406.5,863.35 L1408.5,863.45 L1410.5,863.54 L1412.5,863.64 L1414.5,863.74 L1416.5,863.84 L1418.5,863.94 L1420.5,864.04 L1422.5,864.15 L1424.5,864.27 L1426.5,864.38 L1428.5,864.5 L1430.5,864.62 L1432.5,864.73 L1434.5,864.85 L1436.5,864.96 L1438.5,865.07 L1440.5,865.18 L1442.5,865.29 L1444.5,865.4 L1445.4,865.44" stroke="#2f80df" stroke-width="5.1"/>
</g>
<path d="M1048.5,821.4h9.8M1048.5,873.9h9.8M1048.5,926.4h9.8" stroke="#000" stroke-width="2.8" fill="none"/>
<g clip-path="url(#cr42)" fill="none" stroke-linejoin="round">
<path d="M1048.5,854.25 L1055.38,857.24 L1073.6,859.46 L1082.46,857.24 L1091.83,849.43 L1101.99,837.06 L1109.8,828.6 L1112.41,823.39 L1128.03,820.14 L1142.35,823.65 L1146.26,823.39 L1164.49,819.22 L1182.72,816.23 L1200.95,813.36 L1212.67,812.06 L1219.18,809.98 L1228.29,803.86 L1237.41,800.6 L1246,802.17 L1255.9,806.46 L1274.12,818.83 L1292.35,833.42 L1310.58,846.83 L1328.81,855.94 L1347.04,860.5 L1365.27,864.41 L1383.5,867.66 L1401.73,869.35 L1419.96,870.53 L1438.19,871.57 L1445.4,871.83" stroke="#d0142c" stroke-width="5.1"/>
</g>
<path d="M1445.4,835.4h-9.8M1445.4,874h-9.8M1445.4,912.7h-9.8" stroke="#000" stroke-width="2.8" fill="none"/>
<g clip-path="url(#cb42)"><path d="M1146.5,887.31V900.31M1164.72,893.06V906.06M1182.94,891.06V904.06M1292.26,848.54V861.54M1310.48,847.23V860.23M1328.7,850.08V863.08M1346.92,851.64V864.64M1365.14,853.73V866.73M1383.36,855.55V868.55M1401.58,856.6V869.6M1419.8,857.51V870.51M1438.02,858.55V871.55" stroke="#2f80df" stroke-width="2.8" fill="none"/></g>
<g clip-path="url(#cb42)"><path d="M1055.4,850.75V863.75M1073.62,852.95V865.95M1091.84,842.92V855.92M1110.06,821.58V834.58M1128.28,813.7V826.7M1146.5,816.84V829.84M1164.72,812.69V825.69M1182.94,809.69V822.69M1201.16,806.84V819.84M1219.38,803.34V816.34M1237.6,794.14V807.14M1255.82,799.93V812.93M1274.04,812.28V825.28M1292.26,826.84V839.84M1310.48,840.25V853.25M1328.7,849.39V862.39M1346.92,853.97V866.97M1365.14,857.88V870.88M1383.36,861.14V874.14M1401.58,862.84V875.84M1419.8,864.02V877.02M1438.02,865.06V878.06" stroke="#d0142c" stroke-width="2.8" fill="none"/></g>
<path d="M1048.5,800.4V947.5M1445.4,800.4V947.5" stroke="#000" stroke-width="2.7" fill="none" stroke-linejoin="miter" stroke-linecap="butt"/>
</g>
<g id="panel-p">
<rect x="246.6" y="977.3" width="215.4" height="146.7" fill="#c4d1cd"/>
<line x1="190.5" x2="587.4" y1="1051" y2="1051" stroke="#6f7c7c" stroke-width="5.2"/>
<g clip-path="url(#cb50)" fill="none" stroke-linejoin="round">
<path d="M190.5,1053.78 L207.53,1052.47 L215.6,1053.12 L233.83,1056.77 L245.29,1058.33 L252.19,1059.64 L258.31,1063.54 L263.52,1065.89 L270.42,1065.1 L279.15,1066.15 L288.39,1068.49 L306.62,1070.7 L324.98,1072.4 L343.21,1072.92 L354.67,1074.61 L361.44,1077.21 L370.29,1081.77 L379.67,1085.68 L388,1083.72 L398.16,1083.07 L416.12,1079.82 L434.22,1075 L452.45,1070.7 L460.92,1067.19 L470.68,1063.54 L489.04,1057.68 L507.27,1054.43 L525.5,1052.86 L543.47,1052.08 L561.7,1052.47 L580.06,1052.73 L587.4,1052.86" stroke="#2f80df" stroke-width="5.1"/>
</g>
<path d="M190.5,1010.5h9.8M190.5,1051h9.8M190.5,1091.8h9.8M299.3,1124.5v-10.2M408.6,1124.5v-10.2M518.2,1124.5v-10.2" stroke="#000" stroke-width="2.8" fill="none"/>
<g clip-path="url(#cr50)" fill="none" stroke-linejoin="round">
<path d="M190.5,1038.8 L197.38,1041.41 L207.53,1045.31 L215.6,1048.18 L224.46,1046.35 L233.83,1041.41 L242.69,1037.76 L249.2,1037.24 L254.41,1025.13 L258.31,1024.48 L263.52,1026.43 L267.43,1024.22 L270.42,1025.78 L279.15,1027.73 L288.39,1027.08 L298.68,1025.13 L306.62,1023.44 L324.98,1020.31 L333.83,1020.57 L343.21,1021.61 L354.67,1020.57 L361.44,1017.97 L370.29,1010.16 L379.67,1000.39 L388,999.74 L394.51,999.09 L398.16,994.53 L407.53,996.88 L416.12,994.27 L424.46,994.79 L434.22,991.93 L442.69,998.18 L452.45,1002.08 L457.01,1001.69 L462.22,1007.55 L468.73,1009.11 L470.68,1012.76 L479.15,1020.57 L489.04,1027.08 L507.27,1037.24 L525.5,1043.36 L535.14,1044.66 L543.47,1043.75 L561.7,1042.97 L572.9,1040.76 L580.06,1040.76 L587.4,1041.67" stroke="#d0142c" stroke-width="5.1"/>
</g>
<path d="M587.4,999.5h-9.8M587.4,1051h-9.8M587.4,1102h-9.8" stroke="#000" stroke-width="2.8" fill="none"/>
<g clip-path="url(#cb50)"><path d="M233.84,1050.27V1063.27M252.06,1053.11V1066.11M270.28,1058.62V1071.62M288.5,1062V1075M306.72,1064.21V1077.21M324.94,1065.89V1078.89M343.16,1066.42V1079.42M361.38,1070.69V1083.69M379.6,1079.15V1092.15M397.82,1076.59V1089.59M416.04,1073.33V1086.33M434.26,1068.49V1081.49M452.48,1064.19V1077.19M470.7,1057.04V1070.04M488.92,1051.22V1064.22M507.14,1047.95V1060.95M525.36,1046.38V1059.38M543.58,1045.59V1058.59M561.8,1045.98V1058.98M580.02,1046.23V1059.23" stroke="#2f80df" stroke-width="2.8" fill="none"/></g>
<g clip-path="url(#cb50)"><path d="M197.4,1034.92V1047.92M215.62,1041.67V1054.67M233.84,1034.9V1047.9M252.06,1024.09V1037.09M270.28,1019.21V1032.21M288.5,1020.56V1033.56M306.72,1016.92V1029.92M324.94,1013.82V1026.82M343.16,1015.11V1028.11M361.38,1011.49V1024.49M379.6,993.96V1006.96M397.82,988.45V1001.45M416.04,987.8V1000.8M434.26,985.45V998.45M452.48,995.58V1008.58M470.7,1006.28V1019.28M488.92,1020.5V1033.5M507.14,1030.67V1043.67M525.36,1036.81V1049.81M543.58,1037.25V1050.25M561.8,1036.45V1049.45M580.02,1034.26V1047.26" stroke="#d0142c" stroke-width="2.8" fill="none"/></g>
<path d="M190.5,977.2V1124.5H587.4V977.2" stroke="#000" stroke-width="2.7" fill="none" stroke-linejoin="miter" stroke-linecap="butt"/>
</g>
<g id="panel-q">
<rect x="675.3" y="977.3" width="215.7" height="146.7" fill="#c4d1cd"/>
<line x1="619.5" x2="1016.4" y1="1051" y2="1051" stroke="#6f7c7c" stroke-width="5.2"/>
<g clip-path="url(#cb51)" fill="none" stroke-linejoin="round">
<path d="M619.5,1047.01 L621.5,1047.01 L623.5,1047.01 L625.5,1047.01 L627.5,1046.99 L629.5,1046.92 L631.5,1046.8 L633.5,1046.65 L635.5,1046.48 L637.5,1046.31 L639.5,1046.16 L641.5,1046.04 L643.5,1045.97 L645.5,1045.97 L647.5,1046.02 L649.5,1046.11 L651.5,1046.24 L653.5,1046.4 L655.5,1046.58 L657.5,1046.77 L659.5,1046.96 L661.5,1047.15 L663.5,1047.32 L665.5,1047.51 L667.5,1047.7 L669.5,1047.91 L671.5,1048.12 L673.5,1048.34 L675.5,1048.56 L677.5,1048.8 L679.5,1049.07 L681.5,1049.35 L683.5,1049.63 L685.5,1049.88 L687.5,1050.09 L689.5,1050.24 L691.5,1050.33 L693.5,1050.39 L695.5,1050.45 L697.5,1050.49 L699.5,1050.53 L701.5,1050.57 L703.5,1050.61 L705.5,1050.67 L707.5,1050.75 L709.5,1050.87 L711.5,1051.08 L713.5,1051.35 L715.5,1051.65 L717.5,1051.97 L719.5,1052.26 L721.5,1052.51 L723.5,1052.73 L725.5,1052.93 L727.5,1053.13 L729.5,1053.32 L731.5,1053.51 L733.5,1053.71 L735.5,1053.91 L737.5,1054.11 L739.5,1054.32 L741.5,1054.53 L743.5,1054.73 L745.5,1054.92 L747.5,1055.1 L749.5,1055.28 L751.5,1055.44 L753.5,1055.6 L755.5,1055.76 L757.5,1055.91 L759.5,1056.07 L761.5,1056.21 L763.5,1056.35 L765.5,1056.48 L767.5,1056.61 L769.5,1056.74 L771.5,1056.89 L773.5,1057.05 L775.5,1057.22 L777.5,1057.39 L779.5,1057.58 L781.5,1057.8 L783.5,1058.08 L785.5,1058.45 L787.5,1059.12 L789.5,1059.99 L791.5,1060.88 L793.5,1061.89 L795.5,1062.95 L797.5,1063.99 L799.5,1064.94 L801.5,1065.86 L803.5,1066.77 L805.5,1067.6 L807.5,1068.26 L809.5,1068.71 L811.5,1069.02 L813.5,1069.28 L815.5,1069.55 L817.5,1069.89 L819.5,1070.33 L821.5,1070.84 L823.5,1071.34 L825.5,1071.78 L827.5,1072.09 L829.5,1072.32 L831.5,1072.53 L833.5,1072.7 L835.5,1072.86 L837.5,1073.01 L839.5,1073.16 L841.5,1073.33 L843.5,1073.52 L845.5,1073.74 L847.5,1074 L849.5,1074.28 L851.5,1074.59 L853.5,1074.91 L855.5,1075.25 L857.5,1075.59 L859.5,1075.93 L861.5,1076.26 L863.5,1076.59 L865.5,1076.95 L867.5,1077.37 L869.5,1077.79 L871.5,1078.15 L873.5,1078.41 L875.5,1078.52 L877.5,1078.46 L879.5,1078.32 L881.5,1078.13 L883.5,1077.85 L885.5,1077.4 L887.5,1076.81 L889.5,1076.12 L891.5,1075.35 L893.5,1074.54 L895.5,1073.7 L897.5,1072.89 L899.5,1072.12 L901.5,1071.38 L903.5,1070.6 L905.5,1069.79 L907.5,1068.97 L909.5,1068.14 L911.5,1067.32 L913.5,1066.52 L915.5,1065.75 L917.5,1065.03 L919.5,1064.35 L921.5,1063.68 L923.5,1063.02 L925.5,1062.37 L927.5,1061.75 L929.5,1061.15 L931.5,1060.58 L933.5,1060.05 L935.5,1059.55 L937.5,1059.1 L939.5,1058.67 L941.5,1058.27 L943.5,1057.9 L945.5,1057.56 L947.5,1057.25 L949.5,1056.96 L951.5,1056.7 L953.5,1056.45 L955.5,1056.22 L957.5,1056 L959.5,1055.8 L961.5,1055.6 L963.5,1055.39 L965.5,1055.18 L967.5,1054.98 L969.5,1054.82 L971.5,1054.72 L973.5,1054.69 L975.5,1054.72 L977.5,1054.79 L979.5,1054.87 L981.5,1054.96 L983.5,1055.03 L985.5,1055.07 L987.5,1055.05 L989.5,1054.9 L991.5,1054.66 L993.5,1054.39 L995.5,1054.12 L997.5,1053.89 L999.5,1053.77 L1001.5,1053.69 L1003.5,1053.63 L1005.5,1053.56 L1007.5,1053.51 L1009.5,1053.46 L1011.5,1053.43 L1013.5,1053.4 L1015.5,1053.39 L1016.4,1053.39" stroke="#2f80df" stroke-width="5.1"/>
</g>
<path d="M619.5,1010.5h9.8M619.5,1051h9.8M619.5,1091.8h9.8M728.3,1124.5v-10.2M837.6,1124.5v-10.2M947.2,1124.5v-10.2" stroke="#000" stroke-width="2.8" fill="none"/>
<g clip-path="url(#cr51)" fill="none" stroke-linejoin="round">
<path d="M619.5,1037.5 L626.38,1039.84 L636.53,1045.96 L641.74,1048.96 L644.6,1047.92 L653.46,1046.61 L662.83,1044.66 L670.39,1042.97 L675.59,1043.75 L680.8,1041.15 L689.92,1043.75 L699.03,1044.01 L708.15,1044.27 L717.26,1042.97 L735.49,1040.1 L753.72,1039.06 L771.95,1037.5 L784.97,1035.94 L790.18,1033.59 L799.29,1027.73 L808.41,1023.18 L817,1022.53 L826.9,1018.62 L836.53,1017.97 L845.12,1016.02 L853.46,1014.06 L863.35,1008.59 L872.99,1010.42 L881.58,1010.16 L888.61,1013.41 L897.73,1012.11 L899.81,1016.67 L908.15,1021.88 L918.04,1027.08 L936.27,1035.94 L947.21,1039.45 L954.5,1041.41 L964.14,1042.71 L972.73,1042.45 L990.96,1042.71 L999.29,1042.06 L1009.19,1040.76 L1016.4,1041.4" stroke="#d0142c" stroke-width="5.1"/>
</g>
<path d="M1016.4,999.5h-9.8M1016.4,1051h-9.8M1016.4,1102h-9.8" stroke="#000" stroke-width="2.8" fill="none"/>
<g clip-path="url(#cb51)"><path d="M626.4,1040.51V1053.51M644.62,1039.46V1052.46M662.84,1040.77V1053.77M790.38,1053.87V1066.87M808.6,1062.03V1075.03M826.82,1065.49V1078.49M845.04,1067.19V1080.19M863.26,1070.05V1083.05M881.48,1071.64V1084.64M899.7,1065.55V1078.55M917.92,1058.39V1071.39M936.14,1052.91V1065.91" stroke="#2f80df" stroke-width="2.8" fill="none"/></g>
<g clip-path="url(#cb51)"><path d="M626.4,1033.36V1046.36M681.06,1034.72V1047.72M699.28,1037.52V1050.52M717.5,1036.43V1049.43M735.72,1033.59V1046.59M753.94,1032.54V1045.54M772.16,1030.97V1043.97M790.38,1026.96V1039.96M808.6,1016.66V1029.66M826.82,1012.15V1025.15M845.04,1009.53V1022.53M863.26,1002.15V1015.15M881.48,1003.66V1016.66M899.7,1009.92V1022.92M917.92,1020.52V1033.52M936.14,1029.37V1042.37M954.36,1034.87V1047.87M972.58,1035.95V1048.95M990.8,1036.21V1049.21M1009.02,1034.28V1047.28" stroke="#d0142c" stroke-width="2.8" fill="none"/></g>
<path d="M619.5,977.2V1124.5H1016.4V977.2" stroke="#000" stroke-width="2.7" fill="none" stroke-linejoin="miter" stroke-linecap="butt"/>
</g>
<g id="panel-r">
<rect x="1104" y="977.3" width="216" height="146.7" fill="#c4d1cd"/>
<line x1="1048.5" x2="1445.4" y1="1051" y2="1051" stroke="#6f7c7c" stroke-width="5.2"/>
<g clip-path="url(#cb52)" fill="none" stroke-linejoin="round">
<path d="M1048.5,1064.58 L1059.02,1060.29 L1066.83,1057.29 L1073.34,1056.38 L1082.46,1059.64 L1091.83,1064.84 L1100.69,1071.35 L1109.8,1077.86 L1113.71,1086.98 L1118.92,1096.09 L1124.12,1098.05 L1128.03,1098.05 L1137.15,1097.4 L1146.26,1101.95 L1155.38,1107.16 L1164.49,1109.77 L1173.6,1110.42 L1182.72,1109.11 L1191.83,1106.77 L1200.95,1104.56 L1210.06,1102.34 L1219.18,1101.95 L1228.29,1105.21 L1237.41,1106.77 L1246,1098.7 L1255.9,1090.89 L1265.53,1082.42 L1274.12,1077.21 L1282.46,1070.7 L1292.35,1065.49 L1300.69,1063.54 L1311.1,1059.64 L1324.12,1055.08 L1337.15,1051.82 L1350.17,1049.48 L1363.19,1047.92 L1376.21,1047.01 L1389.23,1047.01 L1402.25,1047.27 L1419.96,1047.66 L1428.29,1047.27 L1438.19,1045.96 L1445.4,1045.96" stroke="#2f80df" stroke-width="5.1"/>
</g>
<path d="M1048.5,1010.5h9.8M1048.5,1051h9.8M1048.5,1091.8h9.8M1157.3,1124.5v-10.2M1266.6,1124.5v-10.2M1376.2,1124.5v-10.2" stroke="#000" stroke-width="2.8" fill="none"/>
<g clip-path="url(#cr52)" fill="none" stroke-linejoin="round">
<path d="M1048.5,1033.59 L1055.38,1038.15 L1062.93,1042.71 L1070.74,1046.35 L1079.85,1044.01 L1086.36,1037.5 L1091.83,1033.59 L1098.08,1029.04 L1103.29,1026.04 L1107.2,1029.69 L1109.8,1021.88 L1113.06,1001.04 L1116.96,999.09 L1120.87,1001.69 L1124.12,995.83 L1128.03,1004.3 L1133.24,1006.9 L1139.1,1009.9 L1146.26,1006.25 L1155.38,1005.6 L1164.49,1002.99 L1173.6,1001.04 L1182.72,996.88 L1189.23,997.79 L1200,1002.58 L1210.16,1000.62 L1219.53,998.28 L1225.78,994.38 L1231.25,986.56 L1234.38,981.88 L1237.11,979.53 L1244.92,977.81 L1248.44,981.09 L1251.95,987.34 L1255.47,985 L1259.38,980.47 L1262.5,984.22 L1266.41,987.73 L1270.31,986.17 L1273.83,986.33 L1281.25,988.52 L1288.28,984.22 L1292.19,984.22 L1298.44,990.08 L1304.69,993.59 L1310.16,996.72 L1314.45,996.72 L1317.19,1002.19 L1320,1004.92 L1325.43,1005.6 L1328.81,1010.16 L1337.15,1019.92 L1347.04,1028.39 L1356.68,1034.24 L1365.27,1038.8 L1376.21,1042.06 L1383.5,1044.01 L1393.14,1045.31 L1401.73,1044.66 L1419.96,1044.66 L1428.29,1043.75 L1433.5,1041.67 L1438.19,1041.67 L1445.4,1042.44" stroke="#d0142c" stroke-width="5.1"/>
</g>
<path d="M1445.4,999.5h-9.8M1445.4,1051h-9.8M1445.4,1102h-9.8" stroke="#000" stroke-width="2.8" fill="none"/>
<g clip-path="url(#cb52)"><path d="M1110.06,1071.97V1084.97M1128.28,1091.53V1104.53M1146.5,1095.59V1108.59M1164.72,1103.28V1116.28M1182.94,1102.56V1115.56M1201.16,1098.01V1111.01M1219.38,1095.53V1108.53M1237.6,1100.09V1113.09M1255.82,1084.45V1097.45M1274.04,1070.77V1083.77M1292.26,1059.04V1072.04" stroke="#2f80df" stroke-width="2.8" fill="none"/></g>
<g clip-path="url(#cb52)"><path d="M1055.4,1031.67V1044.67M1091.84,1027.09V1040.09M1128.28,997.92V1010.92M1146.5,999.73V1012.73M1164.72,996.45V1009.45M1182.94,990.41V1003.41M1201.16,995.86V1008.86M1219.38,991.82V1004.82M1237.6,972.92V985.92M1255.82,978.09V991.09M1274.04,979.89V992.89M1292.26,977.79V990.79M1310.48,990.22V1003.22M1328.7,1003.5V1016.5M1346.92,1021.78V1034.78M1365.14,1032.23V1045.23M1383.36,1037.47V1050.47M1401.58,1038.17V1051.17M1419.8,1038.16V1051.16M1438.02,1035.17V1048.17" stroke="#d0142c" stroke-width="2.8" fill="none"/></g>
<path d="M1048.5,977.2V1124.5H1445.4V977.2" stroke="#000" stroke-width="2.7" fill="none" stroke-linejoin="miter" stroke-linecap="butt"/>
</g>
<g filter="url(#vb)">
<text transform="translate(206.7,116.2) scale(1,0.98)" class="dv pl">(a)</text>
<text transform="translate(635.7,116.2) scale(1,0.98)" class="dv pl">(b)</text>
<text transform="translate(1064.7,116.2) scale(1,0.98)" class="dv pl">(c)</text>
<text transform="translate(206.7,293.4) scale(1,0.98)" class="dv pl">(d)</text>
<text transform="translate(635.7,293.4) scale(1,0.98)" class="dv pl">(e)</text>
<text transform="translate(1064.7,293.4) scale(1,0.98)" class="dv pl">(f)</text>
<text transform="translate(206.7,470.6) scale(1,0.98)" class="dv pl">(g)</text>
<text transform="translate(635.7,470.6) scale(1,0.98)" class="dv pl">(h)</text>
<text transform="translate(1064.7,470.6) scale(1,0.98)" class="dv pl">(i)</text>
<text transform="translate(206.7,647.8) scale(1,0.98)" class="dv pl">(j)</text>
<text transform="translate(635.7,647.8) scale(1,0.98)" class="dv pl">(k)</text>
<text transform="translate(1064.7,647.8) scale(1,0.98)" class="dv pl">(l)</text>
<text transform="translate(206.7,825) scale(1,0.98)" class="dv pl">(m)</text>
<text transform="translate(635.7,825) scale(1,0.98)" class="dv pl">(n)</text>
<text transform="translate(1064.7,825) scale(1,0.98)" class="dv pl">(o)</text>
<text transform="translate(206.7,1001.8) scale(1,0.98)" class="dv pl">(p)</text>
<text transform="translate(635.7,1001.8) scale(1,0.98)" class="dv pl">(q)</text>
<text transform="translate(1064.7,1001.8) scale(1,0.98)" class="dv pl">(r)</text>
<text transform="translate(818.2,24.8) scale(1,0.98)" text-anchor="middle" class="dv">Pressure/<tspan letter-spacing="0.31">Temperature</tspan> <tspan letter-spacing="-0.2">Response</tspan> <tspan letter-spacing="-0.2">(70°N</tspan> to 80°N)</text>
<text transform="translate(388.65,85.9) scale(1,0.97)" text-anchor="middle" class="lb">All</text>
<text transform="translate(817.65,85.9) scale(1,0.97)" text-anchor="middle" class="lb">High Pressure</text>
<text transform="translate(1246.65,85.9) scale(1,0.97)" text-anchor="middle" class="lb">Low Pressure</text>
<text transform="translate(179,124.35) scale(1,0.98)" text-anchor="end" class="dv" word-spacing="-0.85">4 m</text>
<text transform="translate(179,176.85) scale(1,0.98)" text-anchor="end" class="dv" word-spacing="-0.85">0</text>
<text transform="translate(179,229.35) scale(1,0.98)" text-anchor="end" class="dv" word-spacing="-0.85">-4 m</text>
<text transform="translate(1466.7,138.3) scale(1,0.98)" class="dv">1 °C</text>
<text transform="translate(1466.7,176.9) scale(1,0.98)" class="dv">0</text>
<text transform="translate(1456.9,215.6) scale(1,0.98)" class="dv">-1 °C</text>
<text transform="translate(179,301.55) scale(1,0.98)" text-anchor="end" class="dv" word-spacing="-0.85">4 m</text>
<text transform="translate(179,354.05) scale(1,0.98)" text-anchor="end" class="dv" word-spacing="-0.85">0</text>
<text transform="translate(179,406.55) scale(1,0.98)" text-anchor="end" class="dv" word-spacing="-0.85">-4 m</text>
<text transform="translate(1466.7,315.5) scale(1,0.98)" class="dv">1 °C</text>
<text transform="translate(1466.7,354.1) scale(1,0.98)" class="dv">0</text>
<text transform="translate(1456.9,392.8) scale(1,0.98)" class="dv">-1 °C</text>
<text transform="translate(179,478.75) scale(1,0.98)" text-anchor="end" class="dv" word-spacing="-0.85">4 m</text>
<text transform="translate(179,531.25) scale(1,0.98)" text-anchor="end" class="dv" word-spacing="-0.85">0</text>
<text transform="translate(179,583.75) scale(1,0.98)" text-anchor="end" class="dv" word-spacing="-0.85">-4 m</text>
<text transform="translate(1466.7,492.7) scale(1,0.98)" class="dv">1 °C</text>
<text transform="translate(1466.7,531.3) scale(1,0.98)" class="dv">0</text>
<text transform="translate(1456.9,570) scale(1,0.98)" class="dv">-1 °C</text>
<text transform="translate(179,655.95) scale(1,0.98)" text-anchor="end" class="dv" word-spacing="-0.85">4 m</text>
<text transform="translate(179,708.45) scale(1,0.98)" text-anchor="end" class="dv" word-spacing="-0.85">0</text>
<text transform="translate(179,760.95) scale(1,0.98)" text-anchor="end" class="dv" word-spacing="-0.85">-4 m</text>
<text transform="translate(1466.7,669.9) scale(1,0.98)" class="dv">1 °C</text>
<text transform="translate(1466.7,708.5) scale(1,0.98)" class="dv">0</text>
<text transform="translate(1456.9,747.2) scale(1,0.98)" class="dv">-1 °C</text>
<text transform="translate(179,833.15) scale(1,0.98)" text-anchor="end" class="dv" word-spacing="-0.85">4 m</text>
<text transform="translate(179,885.65) scale(1,0.98)" text-anchor="end" class="dv" word-spacing="-0.85">0</text>
<text transform="translate(179,938.15) scale(1,0.98)" text-anchor="end" class="dv" word-spacing="-0.85">-4 m</text>
<text transform="translate(1466.7,847.1) scale(1,0.98)" class="dv">1 °C</text>
<text transform="translate(1466.7,885.7) scale(1,0.98)" class="dv">0</text>
<text transform="translate(1456.9,924.4) scale(1,0.98)" class="dv">-1 °C</text>
<text transform="translate(179,1022.25) scale(1,0.98)" text-anchor="end" class="dv">0.5 hPa</text>
<text transform="translate(179,1062.75) scale(1,0.98)" text-anchor="end" class="dv">0</text>
<text transform="translate(179,1103.55) scale(1,0.98)" text-anchor="end" class="dv">-0.5 hPa</text>
<text transform="translate(1466.7,1011.2) scale(1,0.98)" class="dv">3 °C</text>
<text transform="translate(1466.7,1062.7) scale(1,0.98)" class="dv">0</text>
<text transform="translate(1456.9,1113.7) scale(1,0.98)" class="dv">-3 °C</text>
<text transform="translate(299.6,1155) scale(1,0.9953)" text-anchor="middle" class="dv" style="font-size:32.0px">30°E</text>
<text transform="translate(408.9,1155) scale(1,0.9953)" text-anchor="middle" class="dv" style="font-size:32.0px">60°E</text>
<text transform="translate(518.5,1155) scale(1,0.9953)" text-anchor="middle" class="dv" style="font-size:32.0px">90°E</text>
<text transform="translate(728.6,1155) scale(1,0.9953)" text-anchor="middle" class="dv" style="font-size:32.0px">30°E</text>
<text transform="translate(837.9,1155) scale(1,0.9953)" text-anchor="middle" class="dv" style="font-size:32.0px">60°E</text>
<text transform="translate(947.5,1155) scale(1,0.9953)" text-anchor="middle" class="dv" style="font-size:32.0px">90°E</text>
<text transform="translate(1157.6,1155) scale(1,0.9953)" text-anchor="middle" class="dv" style="font-size:32.0px">30°E</text>
<text transform="translate(1266.9,1155) scale(1,0.9953)" text-anchor="middle" class="dv" style="font-size:32.0px">60°E</text>
<text transform="translate(1376.5,1155) scale(1,0.9953)" text-anchor="middle" class="dv" style="font-size:32.0px">90°E</text>
<text transform="translate(818.4,1188.3) scale(1,0.9922)" text-anchor="middle" class="dv" style="font-size:32.1px">Longitude</text>
</g>
<g filter="url(#hb)">
<text transform="translate(83,165.15) rotate(-90) scale(1,0.975)" text-anchor="middle" class="dv">300 hPa</text>
<text transform="translate(83,342.35) rotate(-90) scale(1,0.975)" text-anchor="middle" class="dv">500 hPa</text>
<text transform="translate(83,519.55) rotate(-90) scale(1,0.975)" text-anchor="middle" class="dv">700 hPa</text>
<text transform="translate(83,696.75) rotate(-90) scale(1,0.975)" text-anchor="middle" class="dv">850 hPa</text>
<text transform="translate(83,873.95) rotate(-90) scale(1,0.975)" text-anchor="middle" class="dv">925 hPa</text>
<text transform="translate(24,1050.85) rotate(-90) scale(1,0.975)" text-anchor="middle" class="dv">Surface</text>
</g>
</svg>
</body>
</html>
